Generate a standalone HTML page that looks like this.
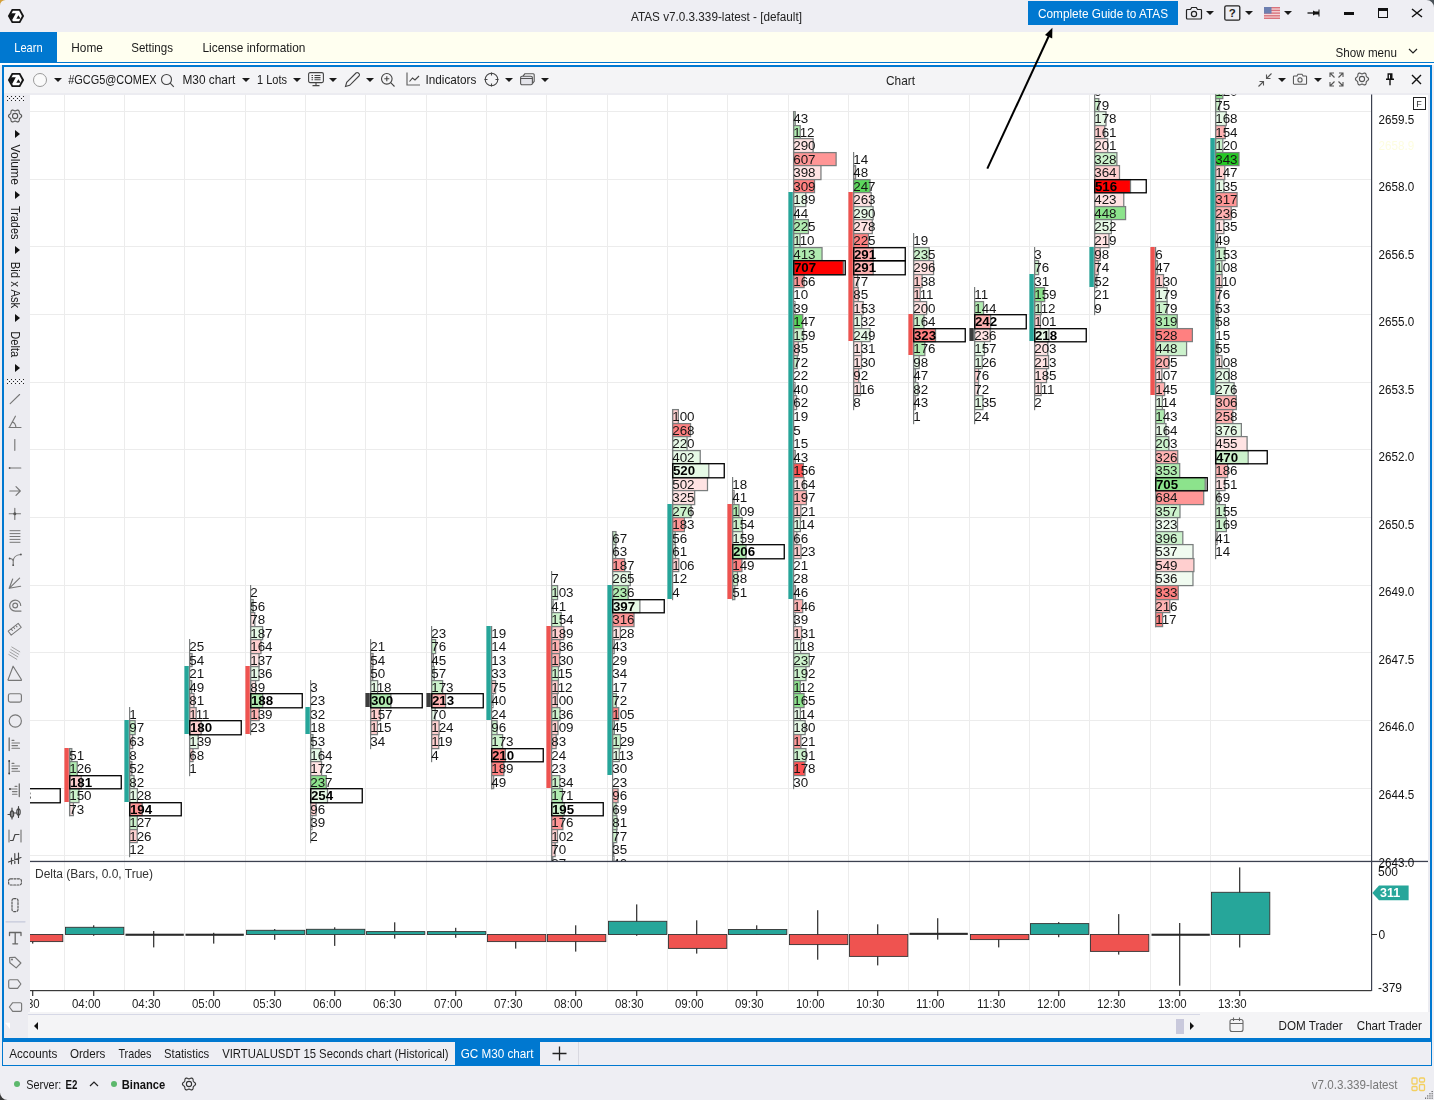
<!DOCTYPE html>
<html><head><meta charset="utf-8"><title>ATAS</title>
<style>
html,body{margin:0;padding:0;}
body{width:1434px;height:1100px;overflow:hidden;position:relative;background:#eeeef3;font-family:"Liberation Sans",sans-serif;font-size:12px;color:#1a1a1a;}
.abs{position:absolute;}
.t{position:absolute;white-space:nowrap;line-height:16px;}
.dd{position:absolute;width:0;height:0;margin-left:0.2px;border-left:4.3px solid transparent;border-right:4.3px solid transparent;border-top:4.6px solid #1a1a1a;}
.ic{position:absolute;overflow:visible;}
.vt{position:absolute;white-space:nowrap;transform-origin:0 0;transform:rotate(90deg);font-size:12.5px;line-height:14px;color:#1a1a1a;}
.tri{position:absolute;width:0;height:0;border-top:4px solid transparent;border-bottom:4px solid transparent;border-left:5px solid #111;}
</style></head><body>
<!-- title bar -->
<div class="abs" style="left:0;top:0;width:1434px;height:32px;background:#eeeef3;"></div>
<!-- menu bar -->
<div class="abs" style="left:0;top:32px;width:1434px;height:30px;background:#fffff0;"></div>
<div class="abs" style="left:0;top:32px;width:57px;height:30px;background:#0078d0;"></div>
<div class="abs" style="left:0;top:62px;width:1434px;height:1px;background:#0078d0;"></div>
<div class="abs" style="left:0;top:63px;width:1434px;height:2px;background:#fff;"></div>
<!-- title bar content -->
<svg class="ic" style="left:0px;top:0px" width="32" height="32" viewBox="0 0 32 32"><path d="M7.900 16L11.800 9h8.400L24.100 16 20.200 23h-8.400z" fill="#151515"/><path d="M10.100 16L12.900 10.800h6.200L21.900 16 19.100 21.200h-6.200z" fill="#fff"/><path d="M9.600 16L11.200 13.300h4.600L12.300 19.700h-0.700z" fill="#151515"/><path d="M18.400 15.200L20.600 18.700h-4.300z" fill="#151515"/></svg>
<div class="abs" style="left:1028px;top:1px;width:150px;height:24px;background:#0078d0;"></div>
<!-- camera -->
<svg class="ic" style="left:1185px;top:5px" width="18" height="16" viewBox="0 0 18 16"><path d="M2.5 4.5h3l1.2-2h4.6l1.2 2h3a1 1 0 0 1 1 1v7.5a1 1 0 0 1-1 1h-13a1 1 0 0 1-1-1V5.500a1 1 0 0 1 1-1z" fill="none" stroke="#222" stroke-width="1.2"/><circle cx="9" cy="9" r="2.6" fill="none" stroke="#222" stroke-width="1.2"/></svg>
<div class="dd" style="left:1206px;top:11px"></div>
<svg class="ic" style="left:1224px;top:5px" width="17" height="16" viewBox="0 0 17 16"><rect x="0.8" y="0.8" width="15" height="14.4" rx="1.5" fill="none" stroke="#222" stroke-width="1.3"/><text x="8.3" y="12.3" font-size="11.5" font-weight="bold" text-anchor="middle" fill="#222" font-family="Liberation Sans, sans-serif">?</text></svg>
<div class="dd" style="left:1245px;top:11px"></div>
<!-- flag -->
<svg class="ic" style="left:1264px;top:7px" width="16" height="12" viewBox="0 0 16 12"><rect width="16" height="12" fill="#f4d6d8"/><g fill="#d9737c"><rect y="0" width="16" height="1.4"/><rect y="2.7" width="16" height="1.4"/><rect y="5.4" width="16" height="1.4"/><rect y="8.1" width="16" height="1.4"/><rect y="10.6" width="16" height="1.4"/></g><rect width="7.5" height="6.6" fill="#6d7fb0"/></svg>
<div class="dd" style="left:1284px;top:11px"></div>
<!-- pin -->
<svg class="ic" style="left:1307px;top:8px" width="14" height="10" viewBox="0 0 14 10"><path d="M0.500 5h6" stroke="#111" stroke-width="1.3"/><path d="M6 2.500l2 1h3.500v-2h1v7h-1v-2H8l-2 1z" fill="#111"/></svg>
<div class="abs" style="left:1344px;top:11.500px;width:10px;height:3px;background:#111;"></div>
<div class="abs" style="left:1378px;top:8px;width:7.500px;height:6px;border:1.500px solid #111;border-top-width:3px;"></div>
<svg class="ic" style="left:1411px;top:8px" width="12" height="10" viewBox="0 0 12 10"><path d="M1 1l10 8M11 1l-10 8" stroke="#111" stroke-width="1.500"/></svg>
<!-- menu -->
<svg class="ic" style="left:1408px;top:48px" width="10" height="7" viewBox="0 0 10 7"><path d="M1 1l4 4 4-4" fill="none" stroke="#222" stroke-width="1.200"/></svg>

<!-- chart window frame -->
<div class="abs" style="left:2px;top:65px;width:1430px;height:977px;background:#0078d0;"></div>
<div class="abs" style="left:4px;top:67px;width:1426px;height:971px;background:#f4f4f6;"></div>
<!-- chart toolbar -->
<svg class="ic" style="left:0px;top:64px" width="32" height="32" viewBox="0 0 32 32"><path d="M7.900 16L11.800 9h8.400L24.100 16 20.200 23h-8.400z" fill="#151515"/><path d="M10.100 16L12.900 10.800h6.200L21.900 16 19.100 21.200h-6.200z" fill="#fff"/><path d="M9.600 16L11.200 13.300h4.600L12.300 19.700h-0.700z" fill="#151515"/><path d="M18.400 15.200L20.600 18.700h-4.300z" fill="#151515"/></svg>
<div class="abs" style="left:33px;top:73px;width:12px;height:12px;border:1px solid #9a9a9a;border-radius:50%;background:#fafafa;"></div>
<div class="dd" style="left:53.500px;top:77.500px"></div>
<svg class="ic" style="left:160px;top:73px" width="15" height="15" viewBox="0 0 15 15"><circle cx="6.500" cy="6.500" r="5" fill="none" stroke="#444" stroke-width="1.100"/><path d="M10.200 10.200l3.600 3.600" stroke="#444" stroke-width="1.100"/></svg>
<div class="dd" style="left:241.500px;top:77.500px"></div>
<div class="dd" style="left:292.500px;top:77.500px"></div>
<!-- monitor -->
<svg class="ic" style="left:308px;top:72px" width="16" height="15" viewBox="0 0 16 15"><rect x="0.600" y="0.600" width="14.800" height="10" rx="1.500" fill="none" stroke="#444" stroke-width="1.100"/><path d="M3.500 3.500h1.500M6.500 3.500h6M3.500 5.600h1.500M6.500 5.600h6M3.500 7.700h1.500M6.500 7.700h6M8 10.600v2.400M4.500 13.600h7" stroke="#444" stroke-width="1.100"/></svg>
<div class="dd" style="left:329px;top:77.500px"></div>
<!-- pencil -->
<svg class="ic" style="left:344px;top:71px" width="17" height="17" viewBox="0 0 17 17"><path d="M1.500 15.500l1.200-4.200L12 2a1.600 1.600 0 0 1 2.300 0l.700.700a1.600 1.600 0 0 1 0 2.300L5.700 14.300z" fill="none" stroke="#444" stroke-width="1.100"/></svg>
<div class="dd" style="left:365.500px;top:77.500px"></div>
<!-- zoom plus -->
<svg class="ic" style="left:380px;top:72px" width="16" height="16" viewBox="0 0 16 16"><circle cx="6.800" cy="6.800" r="5.300" fill="none" stroke="#444" stroke-width="1.100"/><path d="M10.700 10.700l3.800 3.800M4.300 6.800h5M6.800 4.300v5" stroke="#444" stroke-width="1.100"/></svg>
<!-- indicators -->
<svg class="ic" style="left:406px;top:72px" width="15" height="15" viewBox="0 0 15 15"><path d="M1 0.500v12.500h13" fill="none" stroke="#666" stroke-width="1.200"/><path d="M3.500 9.500l3-3.500 2.500 2 4-4" fill="none" stroke="#444" stroke-width="1.100"/></svg>
<svg class="ic" style="left:484px;top:72px" width="15" height="15" viewBox="0 0 15 15"><circle cx="7.500" cy="7.500" r="6.300" fill="none" stroke="#444" stroke-width="1.100"/><path d="M7.500 0.500v3M7.500 11.500v3M0.500 7.500h3M11.500 7.500h3" stroke="#444" stroke-width="1.100"/></svg>
<div class="dd" style="left:504.500px;top:77.500px"></div>
<svg class="ic" style="left:520px;top:73px" width="15" height="13" viewBox="0 0 15 13"><path d="M3 3.200l1.800-2.400h8.400a1 1 0 0 1 1 1v6.500l-1.800 2.300" fill="none" stroke="#555" stroke-width="1.100"/><rect x="0.600" y="3.200" width="11.800" height="8.600" rx="1.500" fill="#e4e4ea" stroke="#555" stroke-width="1.100"/><path d="M0.600 5.500h11.800" stroke="#555" stroke-width="1"/></svg>
<div class="dd" style="left:540.500px;top:77.500px"></div>
<!-- right toolbar icons -->
<svg class="ic" style="left:1257px;top:72px" width="16" height="16" viewBox="0 0 16 16"><path d="M1.500 14.500l5-5M6.500 13.500v-4h-4M14.500 1.500l-5 5M9.500 2.500v4h4" fill="none" stroke="#555" stroke-width="1.100"/></svg>
<div class="dd" style="left:1277.500px;top:77.500px"></div>
<svg class="ic" style="left:1292px;top:72px" width="16" height="14" viewBox="0 0 18 16"><path d="M2.500 4.500h3l1.200-2h4.600l1.200 2h3a1 1 0 0 1 1 1v7.500a1 1 0 0 1-1 1h-13a1 1 0 0 1-1-1V5.500a1 1 0 0 1 1-1z" fill="none" stroke="#555" stroke-width="1.200"/><circle cx="9" cy="9" r="2.400" fill="none" stroke="#555" stroke-width="1.200"/></svg>
<div class="dd" style="left:1313.500px;top:77.500px"></div>
<svg class="ic" style="left:1329px;top:72px" width="15" height="15" viewBox="0 0 15 15"><path d="M1 5V1h4M10 1h4v4M14 10v4h-4M5 14H1v-4M1.500 1.500l4 4M13.500 1.500l-4 4M13.500 13.500l-4-4M1.500 13.500l4-4" fill="none" stroke="#555" stroke-width="1.100"/></svg>
<svg class="ic" style="left:1354px;top:71px" width="16" height="16" viewBox="0 0 16 16"><g transform="translate(8,8)"><path d="M6.60 0.00 L6.55 0.34 L6.42 0.67 L6.21 0.98 L5.95 1.26 L5.65 1.51 L5.34 1.74 L5.05 1.94 L4.79 2.13 L4.58 2.33 L4.42 2.55 L4.31 2.80 L4.24 3.08 L4.20 3.40 L4.18 3.76 L4.14 4.14 L4.07 4.52 L3.96 4.89 L3.80 5.22 L3.57 5.50 L3.30 5.72 L2.98 5.85 L2.63 5.90 L2.25 5.87 L1.88 5.78 L1.51 5.65 L1.17 5.50 L0.85 5.34 L0.55 5.21 L0.27 5.13 L0.00 5.10 L-0.27 5.13 L-0.55 5.21 L-0.85 5.34 L-1.17 5.50 L-1.51 5.65 L-1.88 5.78 L-2.25 5.87 L-2.63 5.90 L-2.98 5.85 L-3.30 5.72 L-3.57 5.50 L-3.80 5.22 L-3.96 4.89 L-4.07 4.52 L-4.14 4.14 L-4.18 3.76 L-4.20 3.40 L-4.24 3.08 L-4.31 2.80 L-4.42 2.55 L-4.58 2.33 L-4.79 2.13 L-5.05 1.94 L-5.34 1.74 L-5.65 1.51 L-5.95 1.26 L-6.21 0.98 L-6.42 0.67 L-6.55 0.34 L-6.60 0.00 L-6.55 -0.34 L-6.42 -0.67 L-6.21 -0.98 L-5.95 -1.26 L-5.65 -1.51 L-5.34 -1.74 L-5.05 -1.94 L-4.79 -2.13 L-4.58 -2.33 L-4.42 -2.55 L-4.31 -2.80 L-4.24 -3.08 L-4.20 -3.40 L-4.18 -3.76 L-4.14 -4.14 L-4.07 -4.52 L-3.96 -4.89 L-3.80 -5.22 L-3.57 -5.50 L-3.30 -5.72 L-2.98 -5.85 L-2.63 -5.90 L-2.25 -5.87 L-1.88 -5.78 L-1.51 -5.65 L-1.17 -5.50 L-0.85 -5.34 L-0.55 -5.21 L-0.27 -5.13 L-0.00 -5.10 L0.27 -5.13 L0.55 -5.21 L0.85 -5.34 L1.17 -5.50 L1.51 -5.65 L1.88 -5.78 L2.25 -5.87 L2.63 -5.90 L2.98 -5.85 L3.30 -5.72 L3.57 -5.50 L3.80 -5.22 L3.96 -4.89 L4.07 -4.52 L4.14 -4.14 L4.18 -3.76 L4.20 -3.40 L4.24 -3.08 L4.31 -2.80 L4.42 -2.55 L4.58 -2.33 L4.79 -2.13 L5.05 -1.94 L5.34 -1.74 L5.65 -1.51 L5.95 -1.26 L6.21 -0.98 L6.42 -0.67 L6.55 -0.34Z" fill="none" stroke="#555" stroke-width="1.100" stroke-linejoin="round"/><circle cx="0" cy="0" r="2.6" fill="none" stroke="#555" stroke-width="1.100"/></g></svg>
<svg class="ic" style="left:1385px;top:73px" width="10" height="13" viewBox="0 0 10 13"><path d="M2.500 1h5M3.200 1v5M6.800 1v5M1 6.200h8M5 6.200v6" fill="none" stroke="#111" stroke-width="1.400"/><rect x="5" y="1" width="1.800" height="5" fill="#111"/></svg>
<svg class="ic" style="left:1411px;top:74px" width="11" height="11" viewBox="0 0 11 11"><path d="M1 1l9 9M10 1l-9 9" stroke="#111" stroke-width="1.400"/></svg>
<!-- left toolbar -->
<div class="abs" style="left:4px;top:93px;width:1426px;height:945px;background:#ececf1;"></div>
<svg class="ic" style="left:4px;top:94px" width="26" height="925" viewBox="0 0 26 925" fill="none" stroke="#555" stroke-width="1.1" stroke-linecap="round" stroke-linejoin="round">
<!-- grip -->
<g stroke="none"><rect x="3" y="2" width="1" height="1" fill="#222"/><rect x="5" y="2" width="1" height="1" fill="#fff"/><rect x="7" y="2" width="1" height="1" fill="#222"/><rect x="9" y="2" width="1" height="1" fill="#fff"/><rect x="11" y="2" width="1" height="1" fill="#222"/><rect x="13" y="2" width="1" height="1" fill="#fff"/><rect x="15" y="2" width="1" height="1" fill="#222"/><rect x="17" y="2" width="1" height="1" fill="#fff"/><rect x="19" y="2" width="1" height="1" fill="#222"/><rect x="3" y="4" width="1" height="1" fill="#fff"/><rect x="5" y="4" width="1" height="1" fill="#222"/><rect x="7" y="4" width="1" height="1" fill="#fff"/><rect x="9" y="4" width="1" height="1" fill="#222"/><rect x="11" y="4" width="1" height="1" fill="#fff"/><rect x="13" y="4" width="1" height="1" fill="#222"/><rect x="15" y="4" width="1" height="1" fill="#fff"/><rect x="17" y="4" width="1" height="1" fill="#222"/><rect x="19" y="4" width="1" height="1" fill="#fff"/><rect x="3" y="6" width="1" height="1" fill="#222"/><rect x="5" y="6" width="1" height="1" fill="#fff"/><rect x="7" y="6" width="1" height="1" fill="#222"/><rect x="9" y="6" width="1" height="1" fill="#fff"/><rect x="11" y="6" width="1" height="1" fill="#222"/><rect x="13" y="6" width="1" height="1" fill="#fff"/><rect x="15" y="6" width="1" height="1" fill="#222"/><rect x="17" y="6" width="1" height="1" fill="#fff"/><rect x="19" y="6" width="1" height="1" fill="#222"/><rect x="3" y="285" width="1" height="1" fill="#222"/><rect x="5" y="285" width="1" height="1" fill="#fff"/><rect x="7" y="285" width="1" height="1" fill="#222"/><rect x="9" y="285" width="1" height="1" fill="#fff"/><rect x="11" y="285" width="1" height="1" fill="#222"/><rect x="13" y="285" width="1" height="1" fill="#fff"/><rect x="15" y="285" width="1" height="1" fill="#222"/><rect x="17" y="285" width="1" height="1" fill="#fff"/><rect x="19" y="285" width="1" height="1" fill="#222"/><rect x="3" y="287" width="1" height="1" fill="#fff"/><rect x="5" y="287" width="1" height="1" fill="#222"/><rect x="7" y="287" width="1" height="1" fill="#fff"/><rect x="9" y="287" width="1" height="1" fill="#222"/><rect x="11" y="287" width="1" height="1" fill="#fff"/><rect x="13" y="287" width="1" height="1" fill="#222"/><rect x="15" y="287" width="1" height="1" fill="#fff"/><rect x="17" y="287" width="1" height="1" fill="#222"/><rect x="19" y="287" width="1" height="1" fill="#fff"/><rect x="3" y="289" width="1" height="1" fill="#222"/><rect x="5" y="289" width="1" height="1" fill="#fff"/><rect x="7" y="289" width="1" height="1" fill="#222"/><rect x="9" y="289" width="1" height="1" fill="#fff"/><rect x="11" y="289" width="1" height="1" fill="#222"/><rect x="13" y="289" width="1" height="1" fill="#fff"/><rect x="15" y="289" width="1" height="1" fill="#222"/><rect x="17" y="289" width="1" height="1" fill="#fff"/><rect x="19" y="289" width="1" height="1" fill="#222"/></g>
<!-- gear y=116 -> local 22 -->
<g transform="translate(3.100,14)"><g transform="translate(8,8)"><path d="M6.60 0.00 L6.55 0.34 L6.42 0.67 L6.21 0.98 L5.95 1.26 L5.65 1.51 L5.34 1.74 L5.05 1.94 L4.79 2.13 L4.58 2.33 L4.42 2.55 L4.31 2.80 L4.24 3.08 L4.20 3.40 L4.18 3.76 L4.14 4.14 L4.07 4.52 L3.96 4.89 L3.80 5.22 L3.57 5.50 L3.30 5.72 L2.98 5.85 L2.63 5.90 L2.25 5.87 L1.88 5.78 L1.51 5.65 L1.17 5.50 L0.85 5.34 L0.55 5.21 L0.27 5.13 L0.00 5.10 L-0.27 5.13 L-0.55 5.21 L-0.85 5.34 L-1.17 5.50 L-1.51 5.65 L-1.88 5.78 L-2.25 5.87 L-2.63 5.90 L-2.98 5.85 L-3.30 5.72 L-3.57 5.50 L-3.80 5.22 L-3.96 4.89 L-4.07 4.52 L-4.14 4.14 L-4.18 3.76 L-4.20 3.40 L-4.24 3.08 L-4.31 2.80 L-4.42 2.55 L-4.58 2.33 L-4.79 2.13 L-5.05 1.94 L-5.34 1.74 L-5.65 1.51 L-5.95 1.26 L-6.21 0.98 L-6.42 0.67 L-6.55 0.34 L-6.60 0.00 L-6.55 -0.34 L-6.42 -0.67 L-6.21 -0.98 L-5.95 -1.26 L-5.65 -1.51 L-5.34 -1.74 L-5.05 -1.94 L-4.79 -2.13 L-4.58 -2.33 L-4.42 -2.55 L-4.31 -2.80 L-4.24 -3.08 L-4.20 -3.40 L-4.18 -3.76 L-4.14 -4.14 L-4.07 -4.52 L-3.96 -4.89 L-3.80 -5.22 L-3.57 -5.50 L-3.30 -5.72 L-2.98 -5.85 L-2.63 -5.90 L-2.25 -5.87 L-1.88 -5.78 L-1.51 -5.65 L-1.17 -5.50 L-0.85 -5.34 L-0.55 -5.21 L-0.27 -5.13 L-0.00 -5.10 L0.27 -5.13 L0.55 -5.21 L0.85 -5.34 L1.17 -5.50 L1.51 -5.65 L1.88 -5.78 L2.25 -5.87 L2.63 -5.90 L2.98 -5.85 L3.30 -5.72 L3.57 -5.50 L3.80 -5.22 L3.96 -4.89 L4.07 -4.52 L4.14 -4.14 L4.18 -3.76 L4.20 -3.40 L4.24 -3.08 L4.31 -2.80 L4.42 -2.55 L4.58 -2.33 L4.79 -2.13 L5.05 -1.94 L5.34 -1.74 L5.65 -1.51 L5.95 -1.26 L6.21 -0.98 L6.42 -0.67 L6.55 -0.34Z"/><circle cx="0" cy="0" r="2.6"/></g></g>
<!-- tools -->
<g transform="translate(-4,-94)" stroke="#777" stroke-width="1.15">
<path d="M10.200 403.600L19.600 394.500"/>
<path d="M9 427.500h12M9.300 427.500L15.400 416.200M12.300 421.800a6.500 6.500 0 0 1 3.600 5.700"/>
<path d="M14.800 439.500v10.800"/>
<path d="M9.500 468h11.300"/><circle cx="9.600" cy="468" r="0.900" fill="#555" stroke="none"/>
<path d="M9.800 491h10M16 486.700l4.300 4.300-4.300 4.300"/>
<path d="M9.200 513.700h11.300M14.800 508.200v11.200"/><circle cx="14.800" cy="513.700" r="1.500" fill="#555" stroke="none"/>
<path d="M10 530.700h10M10 533.600h10M10 536.500h10M10 539.400h10M10 542.300h10" stroke-width="1"/>
<path d="M13.200 565v-3.500c0-4 3-6.800 7.500-7M13.200 561c-0.300-1.500-1.500-2.500-3.400-2.500"/><circle cx="20.900" cy="554.500" r="0.900" fill="#555" stroke="none"/><circle cx="9.600" cy="558.500" r="0.900" fill="#555" stroke="none"/><circle cx="13.200" cy="565.200" r="0.900" fill="#555" stroke="none"/>
<path d="M9.200 588.300L19.600 578.200M9.200 588.300L12.700 579M9.200 588.300L20.600 586.300"/>
<circle cx="15.200" cy="605.500" r="2.400"/><path d="M20.700 605.500a5.500 5.500 0 1 0-5.500 5.600h5.800"/>
<path d="M8.200 631.200l10-7.800 3 3.900-10 7.800zM11.300 629l1.100 1.500M13.600 627.200l1.100 1.500M15.900 625.400l1.100 1.500" stroke-width="1.050"/>
<path d="M10.800 649.500l8 4.800M9.800 652l8 4.800M8.800 654.500l8 4.800M11.800 647l8 4.800" stroke="#999" stroke-width="0.900"/>
<path d="M13.100 666.200L21.400 679.500a0.500 0.500 0 0 1-0.500 0.800H8.600a0.500 0.500 0 0 1-0.500-0.700z"/>
<rect x="8.400" y="693.700" width="13" height="8.400" rx="1.800"/>
<circle cx="15.300" cy="721" r="6.100"/>
<path d="M9.200 738v12.500" stroke-width="1.400"/><path d="M12 740.300h2M12 743h7.500M12 745.600h5.500M12 748.200h7.500"/>
<path d="M9.200 761v12.500" stroke-width="1.400"/><path d="M12 763.300h2M12 766h7.500M12 768.600h5.500M12 771.200h7.500"/><circle cx="9.200" cy="761" r="0.900" fill="#444" stroke="none"/><circle cx="9.200" cy="773.500" r="0.900" fill="#444" stroke="none"/>
<path d="M19.300 784v12.500" stroke-width="1.400"/><path d="M17 786.300h-2M17 789h-7.500M17 791.600h-4.500M17 794.200h-4.500"/><circle cx="10" cy="789" r="0.900" fill="#444" stroke="none"/>
<path d="M8 814.500h2.500M13.500 813h3.500M12 808v11M18.500 806.500v11" stroke="#444"/><ellipse cx="12" cy="814" rx="1.700" ry="3.200" stroke="#444"/><ellipse cx="18.500" cy="812" rx="1.700" ry="3.200" stroke="#444"/>
<path d="M9 830v12M21 830v12"/><path d="M10.500 840.500h2.500l2-6h4" stroke="#444"/>
<path d="M8.500 862l12.500-4.500M14.800 853.500v10M18.500 853v10.500M11.500 858v6" stroke="#444"/>
<rect x="8.600" y="878.800" width="12.800" height="6.200" rx="2" stroke-dasharray="2 1.400" stroke="#555"/>
<rect x="12" y="898.600" width="6" height="13" rx="2" stroke-dasharray="2 1.400" stroke="#555"/>
<path d="M6 921.800h19" stroke="#c3c7da"/>
<path d="M9.500 935.500v-3h11.500v3M15.200 932.500v11.300M12.800 943.800h4.800" stroke="#666" stroke-width="1.300"/>
<path d="M9.600 957.500l0.300 5.200 6.300 5.200 4.700-4.900-6-5.800z"/><circle cx="12" cy="959.500" r="0.500"/>
<path d="M10 979.700h7.600l3.300 4.300-3.300 4.400H10a1.300 1.300 0 0 1-1.300-1.300v-6.100a1.300 1.300 0 0 1 1.300-1.300z"/>
<path d="M20.300 1002.700h-7.600l-3.300 4.300 3.300 4.400h7.600a1.300 1.300 0 0 0 1.300-1.300v-6.100a1.300 1.300 0 0 0-1.300-1.300z"/>
</g>
</svg>
<div class="tri" style="left:14.500px;top:130px"></div>
<div class="tri" style="left:14.500px;top:191px"></div>
<div class="tri" style="left:14.500px;top:246px"></div>
<div class="tri" style="left:14.500px;top:314px"></div>
<div class="tri" style="left:14.500px;top:364px"></div>
<svg width="1434" height="1100" viewBox="0 0 1434 1100" style="position:absolute;left:0;top:0;will-change:transform" font-family="Liberation Sans, sans-serif">
<defs><clipPath id="cm"><rect x="30" y="94.5" width="1341.5" height="766.5"/></clipPath><clipPath id="cd"><rect x="30" y="862" width="1341.5" height="128"/></clipPath><clipPath id="ct"><rect x="30" y="990" width="1341.5" height="25"/></clipPath></defs>
<rect x="30" y="95" width="1398" height="917" fill="#fff"/>
<g stroke="#ececec" stroke-width="1" clip-path="url(#cm)">
<line x1="64.5" y1="94" x2="64.5" y2="861"/>
<line x1="124.5" y1="94" x2="124.5" y2="861"/>
<line x1="184.5" y1="94" x2="184.5" y2="861"/>
<line x1="245.5" y1="94" x2="245.5" y2="861"/>
<line x1="305.5" y1="94" x2="305.5" y2="861"/>
<line x1="365.5" y1="94" x2="365.5" y2="861"/>
<line x1="426.5" y1="94" x2="426.5" y2="861"/>
<line x1="486.5" y1="94" x2="486.5" y2="861"/>
<line x1="546.5" y1="94" x2="546.5" y2="861"/>
<line x1="607.5" y1="94" x2="607.5" y2="861"/>
<line x1="667.5" y1="94" x2="667.5" y2="861"/>
<line x1="727.5" y1="94" x2="727.5" y2="861"/>
<line x1="788.5" y1="94" x2="788.5" y2="861"/>
<line x1="848.5" y1="94" x2="848.5" y2="861"/>
<line x1="908.5" y1="94" x2="908.5" y2="861"/>
<line x1="969.5" y1="94" x2="969.5" y2="861"/>
<line x1="1029.5" y1="94" x2="1029.5" y2="861"/>
<line x1="1089.5" y1="94" x2="1089.5" y2="861"/>
<line x1="1150.5" y1="94" x2="1150.5" y2="861"/>
<line x1="1210.5" y1="94" x2="1210.5" y2="861"/>
<line x1="30" y1="111.5" x2="1371" y2="111.5"/>
<line x1="30" y1="179.5" x2="1371" y2="179.5"/>
<line x1="30" y1="246.5" x2="1371" y2="246.5"/>
<line x1="30" y1="314.5" x2="1371" y2="314.5"/>
<line x1="30" y1="382.5" x2="1371" y2="382.5"/>
<line x1="30" y1="449.5" x2="1371" y2="449.5"/>
<line x1="30" y1="517.5" x2="1371" y2="517.5"/>
<line x1="30" y1="585.5" x2="1371" y2="585.5"/>
<line x1="30" y1="652.5" x2="1371" y2="652.5"/>
<line x1="30" y1="720.5" x2="1371" y2="720.5"/>
<line x1="30" y1="788.5" x2="1371" y2="788.5"/>
<line x1="30" y1="855.5" x2="1371" y2="855.5"/>
</g>
<g stroke="#ececec" stroke-width="1" clip-path="url(#cd)">
<line x1="64.5" y1="862" x2="64.5" y2="990"/>
<line x1="124.5" y1="862" x2="124.5" y2="990"/>
<line x1="184.5" y1="862" x2="184.5" y2="990"/>
<line x1="245.5" y1="862" x2="245.5" y2="990"/>
<line x1="305.5" y1="862" x2="305.5" y2="990"/>
<line x1="365.5" y1="862" x2="365.5" y2="990"/>
<line x1="426.5" y1="862" x2="426.5" y2="990"/>
<line x1="486.5" y1="862" x2="486.5" y2="990"/>
<line x1="546.5" y1="862" x2="546.5" y2="990"/>
<line x1="607.5" y1="862" x2="607.5" y2="990"/>
<line x1="667.5" y1="862" x2="667.5" y2="990"/>
<line x1="727.5" y1="862" x2="727.5" y2="990"/>
<line x1="788.5" y1="862" x2="788.5" y2="990"/>
<line x1="848.5" y1="862" x2="848.5" y2="990"/>
<line x1="908.5" y1="862" x2="908.5" y2="990"/>
<line x1="969.5" y1="862" x2="969.5" y2="990"/>
<line x1="1029.5" y1="862" x2="1029.5" y2="990"/>
<line x1="1089.5" y1="862" x2="1089.5" y2="990"/>
<line x1="1150.5" y1="862" x2="1150.5" y2="990"/>
<line x1="1210.5" y1="862" x2="1210.5" y2="990"/>
</g>
<g clip-path="url(#cm)">
<rect x="8.6" y="748.6" width="6.11" height="13" fill="#fff" stroke="#7a7e7e" stroke-width="1.25"/>
<rect x="8.6" y="761.6" width="4.88" height="14" fill="#fff" stroke="#7a7e7e" stroke-width="1.25"/>
<rect x="8.6" y="775.6" width="6.47" height="13" fill="#fff" stroke="#7a7e7e" stroke-width="1.25"/>
<rect x="8.6" y="788.6" width="11.77" height="14" fill="#fff" stroke="#7a7e7e" stroke-width="1.25"/>
<rect x="8.6" y="802.6" width="5.02" height="13" fill="#fff" stroke="#7a7e7e" stroke-width="1.25"/>
<rect x="8" y="748" width="1.2" height="68.2" fill="#7a7e7e"/>
<rect x="8.75" y="788.7" width="51.5" height="14.1" fill="none" stroke="#000" stroke-width="1.3"/>
<text x="8.2" y="760.1" font-size="13.4" fill="#161616">105</text>
<text x="8.2" y="773.1" font-size="13.4" fill="#161616">88</text>
<text x="8.2" y="787.1" font-size="13.4" fill="#161616">110</text>
<text x="8.9" y="800" font-size="13.3" font-weight="bold" fill="#000">183</text>
<text x="8.2" y="814.1" font-size="13.4" fill="#161616">90</text>
<rect x="64.4" y="748" width="4.4" height="54" fill="#ef5350"/>
<rect x="69.6" y="748.6" width="2.2" height="13" fill="#e6f9e6" stroke="#7a7e7e" stroke-width="1.25"/>
<rect x="69.6" y="761.6" width="7.63" height="14" fill="#b0ebb0" stroke="#7a7e7e" stroke-width="1.25"/>
<rect x="69.6" y="775.6" width="11.62" height="13" fill="#ffcfcf" stroke="#7a7e7e" stroke-width="1.25"/>
<rect x="69.6" y="788.6" width="9.38" height="14" fill="#ccf2cc" stroke="#7a7e7e" stroke-width="1.25"/>
<rect x="69.6" y="802.6" width="3.79" height="13" fill="#ffe3e3" stroke="#7a7e7e" stroke-width="1.25"/>
<rect x="69" y="748" width="1.2" height="68.2" fill="#7a7e7e"/>
<rect x="69.75" y="775.7" width="51.5" height="13.1" fill="none" stroke="#000" stroke-width="1.3"/>
<text x="69.2" y="760.1" font-size="13.4" fill="#161616">51</text>
<text x="69.2" y="773.1" font-size="13.4" fill="#161616">126</text>
<text x="69.9" y="787" font-size="13.3" font-weight="bold" fill="#000">181</text>
<text x="69.2" y="800.1" font-size="13.4" fill="#161616">150</text>
<text x="69.2" y="814.1" font-size="13.4" fill="#161616">73</text>
<rect x="124.4" y="720" width="4.4" height="82" fill="#26a69a"/>
<rect x="129.6" y="720.6" width="5.53" height="14" fill="#ccf2cc" stroke="#7a7e7e" stroke-width="1.25"/>
<rect x="129.6" y="734.6" width="3.07" height="14" fill="#ffe3e3" stroke="#7a7e7e" stroke-width="1.25"/>
<rect x="129.6" y="761.6" width="2.27" height="14" fill="#ffe3e3" stroke="#7a7e7e" stroke-width="1.25"/>
<rect x="129.6" y="775.6" width="4.44" height="13" fill="#e6f9e6" stroke="#7a7e7e" stroke-width="1.25"/>
<rect x="129.6" y="788.6" width="7.78" height="14" fill="#e6f9e6" stroke="#7a7e7e" stroke-width="1.25"/>
<rect x="129.6" y="802.6" width="12.56" height="13" fill="#ff9696" stroke="#7a7e7e" stroke-width="1.25"/>
<rect x="129.6" y="815.6" width="7.71" height="14" fill="#ccf2cc" stroke="#7a7e7e" stroke-width="1.25"/>
<rect x="129.6" y="829.6" width="7.63" height="13" fill="#ffcfcf" stroke="#7a7e7e" stroke-width="1.25"/>
<rect x="129" y="707" width="1.2" height="150.2" fill="#7a7e7e"/>
<rect x="129.75" y="802.7" width="51.5" height="13.1" fill="none" stroke="#000" stroke-width="1.3"/>
<text x="129.2" y="719.1" font-size="13.4" fill="#161616">1</text>
<text x="129.2" y="732.1" font-size="13.4" fill="#161616">97</text>
<text x="129.2" y="746.1" font-size="13.4" fill="#161616">63</text>
<text x="129.2" y="760.1" font-size="13.4" fill="#161616">8</text>
<text x="129.2" y="773.1" font-size="13.4" fill="#161616">52</text>
<text x="129.2" y="787.1" font-size="13.4" fill="#161616">82</text>
<text x="129.2" y="800.1" font-size="13.4" fill="#161616">128</text>
<text x="129.9" y="814" font-size="13.3" font-weight="bold" fill="#000">194</text>
<text x="129.2" y="827.1" font-size="13.4" fill="#161616">127</text>
<text x="129.2" y="841.1" font-size="13.4" fill="#161616">126</text>
<text x="129.2" y="854.1" font-size="13.4" fill="#161616">12</text>
<rect x="184.4" y="666" width="4.4" height="68" fill="#26a69a"/>
<rect x="189.6" y="653.6" width="2.42" height="13" fill="#fff0f0" stroke="#7a7e7e" stroke-width="1.25"/>
<rect x="189.6" y="680.6" width="2.05" height="13" fill="#e6f9e6" stroke="#7a7e7e" stroke-width="1.25"/>
<rect x="189.6" y="693.6" width="4.37" height="14" fill="#ffe3e3" stroke="#7a7e7e" stroke-width="1.25"/>
<rect x="189.6" y="707.6" width="6.55" height="13" fill="#ffcfcf" stroke="#7a7e7e" stroke-width="1.25"/>
<rect x="189.6" y="720.6" width="11.55" height="14" fill="#ffcfcf" stroke="#7a7e7e" stroke-width="1.25"/>
<rect x="189.6" y="734.6" width="8.58" height="14" fill="#e6f9e6" stroke="#7a7e7e" stroke-width="1.25"/>
<rect x="189.6" y="748.6" width="3.43" height="13" fill="#ffcfcf" stroke="#7a7e7e" stroke-width="1.25"/>
<rect x="189" y="639" width="1.2" height="137.2" fill="#7a7e7e"/>
<rect x="189.75" y="720.7" width="51.5" height="14.1" fill="none" stroke="#000" stroke-width="1.3"/>
<text x="189.2" y="651.1" font-size="13.4" fill="#161616">25</text>
<text x="189.2" y="665.1" font-size="13.4" fill="#161616">54</text>
<text x="189.2" y="678.1" font-size="13.4" fill="#161616">21</text>
<text x="189.2" y="692.1" font-size="13.4" fill="#161616">49</text>
<text x="189.2" y="705.1" font-size="13.4" fill="#161616">81</text>
<text x="189.2" y="719.1" font-size="13.4" fill="#161616">111</text>
<text x="189.9" y="732" font-size="13.3" font-weight="bold" fill="#000">180</text>
<text x="189.2" y="746.1" font-size="13.4" fill="#161616">139</text>
<text x="189.2" y="760.1" font-size="13.4" fill="#161616">68</text>
<text x="189.2" y="773.1" font-size="13.4" fill="#161616">1</text>
<rect x="245.4" y="666" width="4.4" height="68" fill="#ef5350"/>
<rect x="250.6" y="599.6" width="2.56" height="13" fill="#e6f9e6" stroke="#7a7e7e" stroke-width="1.25"/>
<rect x="250.6" y="612.6" width="4.15" height="14" fill="#ffe3e3" stroke="#7a7e7e" stroke-width="1.25"/>
<rect x="250.6" y="626.6" width="12.06" height="13" fill="#e6f9e6" stroke="#7a7e7e" stroke-width="1.25"/>
<rect x="250.6" y="639.6" width="10.39" height="14" fill="#ffcfcf" stroke="#7a7e7e" stroke-width="1.25"/>
<rect x="250.6" y="653.6" width="8.43" height="13" fill="#ffe3e3" stroke="#7a7e7e" stroke-width="1.25"/>
<rect x="250.6" y="666.6" width="8.36" height="14" fill="#e6f9e6" stroke="#7a7e7e" stroke-width="1.25"/>
<rect x="250.6" y="680.6" width="4.95" height="13" fill="#ffe3e3" stroke="#7a7e7e" stroke-width="1.25"/>
<rect x="250.6" y="693.6" width="12.13" height="14" fill="#b0ebb0" stroke="#7a7e7e" stroke-width="1.25"/>
<rect x="250.6" y="707.6" width="8.58" height="13" fill="#ffb2b2" stroke="#7a7e7e" stroke-width="1.25"/>
<rect x="250" y="585" width="1.2" height="150.2" fill="#7a7e7e"/>
<rect x="250.75" y="693.7" width="51.5" height="14.1" fill="none" stroke="#000" stroke-width="1.3"/>
<text x="250.2" y="597.1" font-size="13.4" fill="#161616">2</text>
<text x="250.2" y="611.1" font-size="13.4" fill="#161616">56</text>
<text x="250.2" y="624.1" font-size="13.4" fill="#161616">78</text>
<text x="250.2" y="638.1" font-size="13.4" fill="#161616">187</text>
<text x="250.2" y="651.1" font-size="13.4" fill="#161616">164</text>
<text x="250.2" y="665.1" font-size="13.4" fill="#161616">137</text>
<text x="250.2" y="678.1" font-size="13.4" fill="#161616">136</text>
<text x="250.2" y="692.1" font-size="13.4" fill="#161616">89</text>
<text x="250.9" y="705" font-size="13.3" font-weight="bold" fill="#000">188</text>
<text x="250.2" y="719.1" font-size="13.4" fill="#161616">139</text>
<text x="250.2" y="732.1" font-size="13.4" fill="#161616">23</text>
<rect x="305.4" y="707" width="4.4" height="27" fill="#26a69a"/>
<rect x="310.6" y="734.6" width="2.34" height="14" fill="#e6f9e6" stroke="#7a7e7e" stroke-width="1.25"/>
<rect x="310.6" y="748.6" width="10.39" height="13" fill="#e6f9e6" stroke="#7a7e7e" stroke-width="1.25"/>
<rect x="310.6" y="761.6" width="10.97" height="14" fill="#ffe3e3" stroke="#7a7e7e" stroke-width="1.25"/>
<rect x="310.6" y="775.6" width="15.68" height="13" fill="#8ce38c" stroke="#7a7e7e" stroke-width="1.25"/>
<rect x="310.6" y="788.6" width="16.91" height="14" fill="#e6f9e6" stroke="#7a7e7e" stroke-width="1.25"/>
<rect x="310.6" y="802.6" width="5.46" height="13" fill="#ffcfcf" stroke="#7a7e7e" stroke-width="1.25"/>
<rect x="310.6" y="815.6" width="1.33" height="14" fill="#fff" stroke="#7a7e7e" stroke-width="1.25"/>
<rect x="310" y="680" width="1.2" height="163.2" fill="#7a7e7e"/>
<rect x="310.75" y="788.7" width="51.5" height="14.1" fill="none" stroke="#000" stroke-width="1.3"/>
<text x="310.2" y="692.1" font-size="13.4" fill="#161616">3</text>
<text x="310.2" y="705.1" font-size="13.4" fill="#161616">23</text>
<text x="310.2" y="719.1" font-size="13.4" fill="#161616">32</text>
<text x="310.2" y="732.1" font-size="13.4" fill="#161616">18</text>
<text x="310.2" y="746.1" font-size="13.4" fill="#161616">53</text>
<text x="310.2" y="760.1" font-size="13.4" fill="#161616">164</text>
<text x="310.2" y="773.1" font-size="13.4" fill="#161616">172</text>
<text x="310.2" y="787.1" font-size="13.4" fill="#161616">237</text>
<text x="310.9" y="800" font-size="13.3" font-weight="bold" fill="#000">254</text>
<text x="310.2" y="814.1" font-size="13.4" fill="#161616">96</text>
<text x="310.2" y="827.1" font-size="13.4" fill="#161616">39</text>
<text x="310.2" y="841.1" font-size="13.4" fill="#161616">2</text>
<rect x="365.4" y="693" width="4.4" height="14" fill="#3c3c3c"/>
<rect x="370.6" y="653.6" width="2.42" height="13" fill="#ffe3e3" stroke="#7a7e7e" stroke-width="1.25"/>
<rect x="370.6" y="666.6" width="2.12" height="14" fill="#ffe3e3" stroke="#7a7e7e" stroke-width="1.25"/>
<rect x="370.6" y="680.6" width="7.05" height="13" fill="#e6f9e6" stroke="#7a7e7e" stroke-width="1.25"/>
<rect x="370.6" y="693.6" width="20.25" height="14" fill="#b0ebb0" stroke="#7a7e7e" stroke-width="1.25"/>
<rect x="370.6" y="707.6" width="9.88" height="13" fill="#ffcfcf" stroke="#7a7e7e" stroke-width="1.25"/>
<rect x="370.6" y="720.6" width="6.84" height="14" fill="#ffcfcf" stroke="#7a7e7e" stroke-width="1.25"/>
<rect x="370" y="639" width="1.2" height="110.2" fill="#7a7e7e"/>
<rect x="370.75" y="693.7" width="51.5" height="14.1" fill="none" stroke="#000" stroke-width="1.3"/>
<text x="370.2" y="651.1" font-size="13.4" fill="#161616">21</text>
<text x="370.2" y="665.1" font-size="13.4" fill="#161616">54</text>
<text x="370.2" y="678.1" font-size="13.4" fill="#161616">50</text>
<text x="370.2" y="692.1" font-size="13.4" fill="#161616">118</text>
<text x="370.9" y="705" font-size="13.3" font-weight="bold" fill="#000">300</text>
<text x="370.2" y="719.1" font-size="13.4" fill="#161616">157</text>
<text x="370.2" y="732.1" font-size="13.4" fill="#161616">115</text>
<text x="370.2" y="746.1" font-size="13.4" fill="#161616">34</text>
<rect x="426.4" y="693" width="4.4" height="14" fill="#3c3c3c"/>
<rect x="431.6" y="639.6" width="4.01" height="14" fill="#ccf2cc" stroke="#7a7e7e" stroke-width="1.25"/>
<rect x="431.6" y="653.6" width="1.76" height="13" fill="#ffe3e3" stroke="#7a7e7e" stroke-width="1.25"/>
<rect x="431.6" y="666.6" width="2.63" height="14" fill="#e6f9e6" stroke="#7a7e7e" stroke-width="1.25"/>
<rect x="431.6" y="680.6" width="11.04" height="13" fill="#ccf2cc" stroke="#7a7e7e" stroke-width="1.25"/>
<rect x="431.6" y="693.6" width="13.94" height="14" fill="#ffb2b2" stroke="#7a7e7e" stroke-width="1.25"/>
<rect x="431.6" y="707.6" width="3.57" height="13" fill="#e6f9e6" stroke="#7a7e7e" stroke-width="1.25"/>
<rect x="431.6" y="720.6" width="7.49" height="14" fill="#ffcfcf" stroke="#7a7e7e" stroke-width="1.25"/>
<rect x="431.6" y="734.6" width="7.13" height="14" fill="#ffcfcf" stroke="#7a7e7e" stroke-width="1.25"/>
<rect x="431" y="626" width="1.2" height="136.2" fill="#7a7e7e"/>
<rect x="431.75" y="693.7" width="51.5" height="14.1" fill="none" stroke="#000" stroke-width="1.3"/>
<text x="431.2" y="638.1" font-size="13.4" fill="#161616">23</text>
<text x="431.2" y="651.1" font-size="13.4" fill="#161616">76</text>
<text x="431.2" y="665.1" font-size="13.4" fill="#161616">45</text>
<text x="431.2" y="678.1" font-size="13.4" fill="#161616">57</text>
<text x="431.2" y="692.1" font-size="13.4" fill="#161616">173</text>
<text x="431.9" y="705" font-size="13.3" font-weight="bold" fill="#000">213</text>
<text x="431.2" y="719.1" font-size="13.4" fill="#161616">70</text>
<text x="431.2" y="732.1" font-size="13.4" fill="#161616">124</text>
<text x="431.2" y="746.1" font-size="13.4" fill="#161616">119</text>
<text x="431.2" y="760.1" font-size="13.4" fill="#161616">4</text>
<rect x="486.4" y="626" width="4.4" height="94" fill="#26a69a"/>
<rect x="491.6" y="680.6" width="3.94" height="13" fill="#ffcfcf" stroke="#7a7e7e" stroke-width="1.25"/>
<rect x="491.6" y="693.6" width="1.4" height="14" fill="#fff" stroke="#7a7e7e" stroke-width="1.25"/>
<rect x="491.6" y="720.6" width="5.46" height="14" fill="#ccf2cc" stroke="#7a7e7e" stroke-width="1.25"/>
<rect x="491.6" y="734.6" width="11.04" height="14" fill="#ccf2cc" stroke="#7a7e7e" stroke-width="1.25"/>
<rect x="491.6" y="748.6" width="13.72" height="13" fill="#ff8080" stroke="#7a7e7e" stroke-width="1.25"/>
<rect x="491.6" y="761.6" width="12.2" height="14" fill="#ff8080" stroke="#7a7e7e" stroke-width="1.25"/>
<rect x="491.6" y="775.6" width="2.05" height="13" fill="#ffe3e3" stroke="#7a7e7e" stroke-width="1.25"/>
<rect x="491" y="626" width="1.2" height="163.2" fill="#7a7e7e"/>
<rect x="491.75" y="748.7" width="51.5" height="13.1" fill="none" stroke="#000" stroke-width="1.3"/>
<text x="491.2" y="638.1" font-size="13.4" fill="#161616">19</text>
<text x="491.2" y="651.1" font-size="13.4" fill="#161616">14</text>
<text x="491.2" y="665.1" font-size="13.4" fill="#161616">13</text>
<text x="491.2" y="678.1" font-size="13.4" fill="#161616">33</text>
<text x="491.2" y="692.1" font-size="13.4" fill="#161616">75</text>
<text x="491.2" y="705.1" font-size="13.4" fill="#161616">40</text>
<text x="491.2" y="719.1" font-size="13.4" fill="#161616">24</text>
<text x="491.2" y="732.1" font-size="13.4" fill="#161616">96</text>
<text x="491.2" y="746.1" font-size="13.4" fill="#161616">173</text>
<text x="491.9" y="760" font-size="13.3" font-weight="bold" fill="#000">210</text>
<text x="491.2" y="773.1" font-size="13.4" fill="#161616">189</text>
<text x="491.2" y="787.1" font-size="13.4" fill="#161616">49</text>
<rect x="546.4" y="626" width="4.4" height="162" fill="#ef5350"/>
<rect x="551.6" y="585.6" width="5.97" height="14" fill="#ccf2cc" stroke="#7a7e7e" stroke-width="1.25"/>
<rect x="551.6" y="599.6" width="1.47" height="13" fill="#e6f9e6" stroke="#7a7e7e" stroke-width="1.25"/>
<rect x="551.6" y="612.6" width="9.66" height="14" fill="#ccf2cc" stroke="#7a7e7e" stroke-width="1.25"/>
<rect x="551.6" y="626.6" width="12.2" height="13" fill="#ffcfcf" stroke="#7a7e7e" stroke-width="1.25"/>
<rect x="551.6" y="639.6" width="8.36" height="14" fill="#ffb2b2" stroke="#7a7e7e" stroke-width="1.25"/>
<rect x="551.6" y="653.6" width="7.92" height="13" fill="#ffb2b2" stroke="#7a7e7e" stroke-width="1.25"/>
<rect x="551.6" y="666.6" width="6.84" height="14" fill="#ccf2cc" stroke="#7a7e7e" stroke-width="1.25"/>
<rect x="551.6" y="680.6" width="6.62" height="13" fill="#ffcfcf" stroke="#7a7e7e" stroke-width="1.25"/>
<rect x="551.6" y="693.6" width="5.75" height="14" fill="#ffcfcf" stroke="#7a7e7e" stroke-width="1.25"/>
<rect x="551.6" y="707.6" width="8.36" height="13" fill="#ccf2cc" stroke="#7a7e7e" stroke-width="1.25"/>
<rect x="551.6" y="720.6" width="6.4" height="14" fill="#ffcfcf" stroke="#7a7e7e" stroke-width="1.25"/>
<rect x="551.6" y="734.6" width="4.52" height="14" fill="#ffcfcf" stroke="#7a7e7e" stroke-width="1.25"/>
<rect x="551.6" y="775.6" width="8.21" height="13" fill="#ccf2cc" stroke="#7a7e7e" stroke-width="1.25"/>
<rect x="551.6" y="788.6" width="10.9" height="14" fill="#b0ebb0" stroke="#7a7e7e" stroke-width="1.25"/>
<rect x="551.6" y="802.6" width="12.64" height="13" fill="#ccf2cc" stroke="#7a7e7e" stroke-width="1.25"/>
<rect x="551.6" y="815.6" width="11.26" height="14" fill="#ff9696" stroke="#7a7e7e" stroke-width="1.25"/>
<rect x="551.6" y="829.6" width="5.89" height="13" fill="#ffcfcf" stroke="#7a7e7e" stroke-width="1.25"/>
<rect x="551.6" y="842.6" width="3.57" height="14" fill="#ffcfcf" stroke="#7a7e7e" stroke-width="1.25"/>
<rect x="551.6" y="856.6" width="1.18" height="13" fill="#ffcfcf" stroke="#7a7e7e" stroke-width="1.25"/>
<rect x="551" y="571" width="1.2" height="299.2" fill="#7a7e7e"/>
<rect x="551.75" y="802.7" width="51.5" height="13.1" fill="none" stroke="#000" stroke-width="1.3"/>
<text x="551.2" y="583.1" font-size="13.4" fill="#161616">7</text>
<text x="551.2" y="597.1" font-size="13.4" fill="#161616">103</text>
<text x="551.2" y="611.1" font-size="13.4" fill="#161616">41</text>
<text x="551.2" y="624.1" font-size="13.4" fill="#161616">154</text>
<text x="551.2" y="638.1" font-size="13.4" fill="#161616">189</text>
<text x="551.2" y="651.1" font-size="13.4" fill="#161616">136</text>
<text x="551.2" y="665.1" font-size="13.4" fill="#161616">130</text>
<text x="551.2" y="678.1" font-size="13.4" fill="#161616">115</text>
<text x="551.2" y="692.1" font-size="13.4" fill="#161616">112</text>
<text x="551.2" y="705.1" font-size="13.4" fill="#161616">100</text>
<text x="551.2" y="719.1" font-size="13.4" fill="#161616">136</text>
<text x="551.2" y="732.1" font-size="13.4" fill="#161616">109</text>
<text x="551.2" y="746.1" font-size="13.4" fill="#161616">83</text>
<text x="551.2" y="760.1" font-size="13.4" fill="#161616">24</text>
<text x="551.2" y="773.1" font-size="13.4" fill="#161616">23</text>
<text x="551.2" y="787.1" font-size="13.4" fill="#161616">134</text>
<text x="551.2" y="800.1" font-size="13.4" fill="#161616">171</text>
<text x="551.9" y="814" font-size="13.3" font-weight="bold" fill="#000">195</text>
<text x="551.2" y="827.1" font-size="13.4" fill="#161616">176</text>
<text x="551.2" y="841.1" font-size="13.4" fill="#161616">102</text>
<text x="551.2" y="854.1" font-size="13.4" fill="#161616">70</text>
<text x="551.2" y="868.1" font-size="13.4" fill="#161616">37</text>
<rect x="607.4" y="585" width="4.4" height="190" fill="#26a69a"/>
<rect x="612.6" y="531.6" width="3.36" height="13" fill="#ccf2cc" stroke="#7a7e7e" stroke-width="1.25"/>
<rect x="612.6" y="544.6" width="3.07" height="14" fill="#e6f9e6" stroke="#7a7e7e" stroke-width="1.25"/>
<rect x="612.6" y="558.6" width="12.06" height="13" fill="#ff9696" stroke="#7a7e7e" stroke-width="1.25"/>
<rect x="612.6" y="571.6" width="17.71" height="14" fill="#e6f9e6" stroke="#7a7e7e" stroke-width="1.25"/>
<rect x="612.6" y="585.6" width="15.61" height="14" fill="#b0ebb0" stroke="#7a7e7e" stroke-width="1.25"/>
<rect x="612.6" y="599.6" width="27.28" height="13" fill="#e6f9e6" stroke="#7a7e7e" stroke-width="1.25"/>
<rect x="612.6" y="612.6" width="21.41" height="14" fill="#ff9696" stroke="#7a7e7e" stroke-width="1.25"/>
<rect x="612.6" y="626.6" width="7.78" height="13" fill="#ffe3e3" stroke="#7a7e7e" stroke-width="1.25"/>
<rect x="612.6" y="639.6" width="1.62" height="14" fill="#ffe3e3" stroke="#7a7e7e" stroke-width="1.25"/>
<rect x="612.6" y="693.6" width="3.72" height="14" fill="#ccf2cc" stroke="#7a7e7e" stroke-width="1.25"/>
<rect x="612.6" y="707.6" width="6.11" height="13" fill="#ff8080" stroke="#7a7e7e" stroke-width="1.25"/>
<rect x="612.6" y="720.6" width="1.76" height="14" fill="#ccf2cc" stroke="#7a7e7e" stroke-width="1.25"/>
<rect x="612.6" y="734.6" width="7.85" height="14" fill="#ccf2cc" stroke="#7a7e7e" stroke-width="1.25"/>
<rect x="612.6" y="748.6" width="6.69" height="13" fill="#e6f9e6" stroke="#7a7e7e" stroke-width="1.25"/>
<rect x="612.6" y="788.6" width="5.46" height="14" fill="#ffb2b2" stroke="#7a7e7e" stroke-width="1.25"/>
<rect x="612.6" y="802.6" width="3.5" height="13" fill="#ccf2cc" stroke="#7a7e7e" stroke-width="1.25"/>
<rect x="612.6" y="815.6" width="4.37" height="14" fill="#ccf2cc" stroke="#7a7e7e" stroke-width="1.25"/>
<rect x="612.6" y="829.6" width="4.08" height="13" fill="#ccf2cc" stroke="#7a7e7e" stroke-width="1.25"/>
<rect x="612.6" y="842.6" width="1.04" height="14" fill="#fff" stroke="#7a7e7e" stroke-width="1.25"/>
<rect x="612.6" y="856.6" width="1.4" height="13" fill="#fff" stroke="#7a7e7e" stroke-width="1.25"/>
<rect x="612" y="531" width="1.2" height="339.2" fill="#7a7e7e"/>
<rect x="612.75" y="599.7" width="51.5" height="13.1" fill="none" stroke="#000" stroke-width="1.3"/>
<text x="612.2" y="543.1" font-size="13.4" fill="#161616">67</text>
<text x="612.2" y="556.1" font-size="13.4" fill="#161616">63</text>
<text x="612.2" y="570.1" font-size="13.4" fill="#161616">187</text>
<text x="612.2" y="583.1" font-size="13.4" fill="#161616">265</text>
<text x="612.2" y="597.1" font-size="13.4" fill="#161616">236</text>
<text x="612.9" y="611" font-size="13.3" font-weight="bold" fill="#000">397</text>
<text x="612.2" y="624.1" font-size="13.4" fill="#161616">316</text>
<text x="612.2" y="638.1" font-size="13.4" fill="#161616">128</text>
<text x="612.2" y="651.1" font-size="13.4" fill="#161616">43</text>
<text x="612.2" y="665.1" font-size="13.4" fill="#161616">29</text>
<text x="612.2" y="678.1" font-size="13.4" fill="#161616">34</text>
<text x="612.2" y="692.1" font-size="13.4" fill="#161616">17</text>
<text x="612.2" y="705.1" font-size="13.4" fill="#161616">72</text>
<text x="612.2" y="719.1" font-size="13.4" fill="#161616">105</text>
<text x="612.2" y="732.1" font-size="13.4" fill="#161616">45</text>
<text x="612.2" y="746.1" font-size="13.4" fill="#161616">129</text>
<text x="612.2" y="760.1" font-size="13.4" fill="#161616">113</text>
<text x="612.2" y="773.1" font-size="13.4" fill="#161616">30</text>
<text x="612.2" y="787.1" font-size="13.4" fill="#161616">23</text>
<text x="612.2" y="800.1" font-size="13.4" fill="#161616">96</text>
<text x="612.2" y="814.1" font-size="13.4" fill="#161616">69</text>
<text x="612.2" y="827.1" font-size="13.4" fill="#161616">81</text>
<text x="612.2" y="841.1" font-size="13.4" fill="#161616">77</text>
<text x="612.2" y="854.1" font-size="13.4" fill="#161616">35</text>
<text x="612.2" y="868.1" font-size="13.4" fill="#161616">40</text>
<rect x="667.4" y="504" width="4.4" height="95" fill="#26a69a"/>
<rect x="672.6" y="409.6" width="5.75" height="14" fill="#ffcfcf" stroke="#7a7e7e" stroke-width="1.25"/>
<rect x="672.6" y="423.6" width="17.93" height="13" fill="#ff8080" stroke="#7a7e7e" stroke-width="1.25"/>
<rect x="672.6" y="436.6" width="14.45" height="14" fill="#e6f9e6" stroke="#7a7e7e" stroke-width="1.25"/>
<rect x="672.6" y="450.6" width="27.64" height="13" fill="#e6f9e6" stroke="#7a7e7e" stroke-width="1.25"/>
<rect x="672.6" y="463.6" width="36.2" height="14" fill="#e6f9e6" stroke="#7a7e7e" stroke-width="1.25"/>
<rect x="672.6" y="477.6" width="34.89" height="13" fill="#ffe3e3" stroke="#7a7e7e" stroke-width="1.25"/>
<rect x="672.6" y="490.6" width="22.06" height="14" fill="#ffe3e3" stroke="#7a7e7e" stroke-width="1.25"/>
<rect x="672.6" y="504.6" width="18.51" height="13" fill="#ccf2cc" stroke="#7a7e7e" stroke-width="1.25"/>
<rect x="672.6" y="517.6" width="11.77" height="14" fill="#ff9696" stroke="#7a7e7e" stroke-width="1.25"/>
<rect x="672.6" y="531.6" width="2.56" height="13" fill="#e6f9e6" stroke="#7a7e7e" stroke-width="1.25"/>
<rect x="672.6" y="544.6" width="2.92" height="14" fill="#e6f9e6" stroke="#7a7e7e" stroke-width="1.25"/>
<rect x="672.6" y="558.6" width="6.18" height="13" fill="#ffcfcf" stroke="#7a7e7e" stroke-width="1.25"/>
<rect x="672" y="409" width="1.2" height="191.2" fill="#7a7e7e"/>
<rect x="672.75" y="463.7" width="51.5" height="14.1" fill="none" stroke="#000" stroke-width="1.3"/>
<text x="672.2" y="421.1" font-size="13.4" fill="#161616">100</text>
<text x="672.2" y="435.1" font-size="13.4" fill="#161616">268</text>
<text x="672.2" y="448.1" font-size="13.4" fill="#161616">220</text>
<text x="672.2" y="462.1" font-size="13.4" fill="#161616">402</text>
<text x="672.9" y="475" font-size="13.3" font-weight="bold" fill="#000">520</text>
<text x="672.2" y="489.1" font-size="13.4" fill="#161616">502</text>
<text x="672.2" y="502.1" font-size="13.4" fill="#161616">325</text>
<text x="672.2" y="516.1" font-size="13.4" fill="#161616">276</text>
<text x="672.2" y="529.1" font-size="13.4" fill="#161616">183</text>
<text x="672.2" y="543.1" font-size="13.4" fill="#161616">56</text>
<text x="672.2" y="556.1" font-size="13.4" fill="#161616">61</text>
<text x="672.2" y="570.1" font-size="13.4" fill="#161616">106</text>
<text x="672.2" y="583.1" font-size="13.4" fill="#161616">12</text>
<text x="672.2" y="597.1" font-size="13.4" fill="#161616">4</text>
<rect x="727.4" y="504" width="4.4" height="95" fill="#ef5350"/>
<rect x="732.6" y="490.6" width="1.47" height="14" fill="#ffe3e3" stroke="#7a7e7e" stroke-width="1.25"/>
<rect x="732.6" y="504.6" width="6.4" height="13" fill="#b0ebb0" stroke="#7a7e7e" stroke-width="1.25"/>
<rect x="732.6" y="517.6" width="9.66" height="14" fill="#ccf2cc" stroke="#7a7e7e" stroke-width="1.25"/>
<rect x="732.6" y="531.6" width="10.03" height="13" fill="#e6f9e6" stroke="#7a7e7e" stroke-width="1.25"/>
<rect x="732.6" y="544.6" width="13.43" height="14" fill="#b0ebb0" stroke="#7a7e7e" stroke-width="1.25"/>
<rect x="732.6" y="558.6" width="9.3" height="13" fill="#ff8080" stroke="#7a7e7e" stroke-width="1.25"/>
<rect x="732.6" y="571.6" width="4.88" height="14" fill="#ccf2cc" stroke="#7a7e7e" stroke-width="1.25"/>
<rect x="732.6" y="585.6" width="2.2" height="14" fill="#e6f9e6" stroke="#7a7e7e" stroke-width="1.25"/>
<rect x="732" y="477" width="1.2" height="123.2" fill="#7a7e7e"/>
<rect x="732.75" y="544.7" width="51.5" height="14.1" fill="none" stroke="#000" stroke-width="1.3"/>
<text x="732.2" y="489.1" font-size="13.4" fill="#161616">18</text>
<text x="732.2" y="502.1" font-size="13.4" fill="#161616">41</text>
<text x="732.2" y="516.1" font-size="13.4" fill="#161616">109</text>
<text x="732.2" y="529.1" font-size="13.4" fill="#161616">154</text>
<text x="732.2" y="543.1" font-size="13.4" fill="#161616">159</text>
<text x="732.9" y="556" font-size="13.3" font-weight="bold" fill="#000">206</text>
<text x="732.2" y="570.1" font-size="13.4" fill="#161616">149</text>
<text x="732.2" y="583.1" font-size="13.4" fill="#161616">88</text>
<text x="732.2" y="597.1" font-size="13.4" fill="#161616">51</text>
<rect x="788.4" y="192" width="4.4" height="407" fill="#26a69a"/>
<rect x="793.6" y="111.6" width="1.62" height="14" fill="#ccf2cc" stroke="#7a7e7e" stroke-width="1.25"/>
<rect x="793.6" y="125.6" width="6.62" height="13" fill="#b0ebb0" stroke="#7a7e7e" stroke-width="1.25"/>
<rect x="793.6" y="138.6" width="19.52" height="14" fill="#ffe3e3" stroke="#7a7e7e" stroke-width="1.25"/>
<rect x="793.6" y="152.6" width="42.51" height="13" fill="#ff9696" stroke="#7a7e7e" stroke-width="1.25"/>
<rect x="793.6" y="165.6" width="27.35" height="14" fill="#ffe3e3" stroke="#7a7e7e" stroke-width="1.25"/>
<rect x="793.6" y="179.6" width="20.9" height="13" fill="#ff8080" stroke="#7a7e7e" stroke-width="1.25"/>
<rect x="793.6" y="192.6" width="12.2" height="14" fill="#e6f9e6" stroke="#7a7e7e" stroke-width="1.25"/>
<rect x="793.6" y="206.6" width="1.69" height="13" fill="#e6f9e6" stroke="#7a7e7e" stroke-width="1.25"/>
<rect x="793.6" y="219.6" width="14.81" height="14" fill="#b0ebb0" stroke="#7a7e7e" stroke-width="1.25"/>
<rect x="793.6" y="233.6" width="6.47" height="14" fill="#ccf2cc" stroke="#7a7e7e" stroke-width="1.25"/>
<rect x="793.6" y="247.6" width="28.44" height="13" fill="#b0ebb0" stroke="#7a7e7e" stroke-width="1.25"/>
<rect x="793.6" y="260.6" width="49.76" height="14" fill="#ff0000" stroke="#7a7e7e" stroke-width="1.25"/>
<rect x="793.6" y="274.6" width="10.53" height="13" fill="#ff9696" stroke="#7a7e7e" stroke-width="1.25"/>
<rect x="793.6" y="301.6" width="1.33" height="13" fill="#fff" stroke="#7a7e7e" stroke-width="1.25"/>
<rect x="793.6" y="314.6" width="9.16" height="14" fill="#5cd75c" stroke="#7a7e7e" stroke-width="1.25"/>
<rect x="793.6" y="328.6" width="10.03" height="13" fill="#ccf2cc" stroke="#7a7e7e" stroke-width="1.25"/>
<rect x="793.6" y="341.6" width="4.66" height="14" fill="#ffcfcf" stroke="#7a7e7e" stroke-width="1.25"/>
<rect x="793.6" y="355.6" width="3.72" height="13" fill="#ccf2cc" stroke="#7a7e7e" stroke-width="1.25"/>
<rect x="793.6" y="382.6" width="1.4" height="13" fill="#fff" stroke="#7a7e7e" stroke-width="1.25"/>
<rect x="793.6" y="395.6" width="3" height="14" fill="#ffe3e3" stroke="#7a7e7e" stroke-width="1.25"/>
<rect x="793.6" y="450.6" width="1.62" height="13" fill="#ffe3e3" stroke="#7a7e7e" stroke-width="1.25"/>
<rect x="793.6" y="463.6" width="9.81" height="14" fill="#ff5252" stroke="#7a7e7e" stroke-width="1.25"/>
<rect x="793.6" y="477.6" width="10.39" height="13" fill="#ffe3e3" stroke="#7a7e7e" stroke-width="1.25"/>
<rect x="793.6" y="490.6" width="12.78" height="14" fill="#ffb2b2" stroke="#7a7e7e" stroke-width="1.25"/>
<rect x="793.6" y="504.6" width="7.27" height="13" fill="#ffcfcf" stroke="#7a7e7e" stroke-width="1.25"/>
<rect x="793.6" y="517.6" width="6.76" height="14" fill="#e6f9e6" stroke="#7a7e7e" stroke-width="1.25"/>
<rect x="793.6" y="531.6" width="3.28" height="13" fill="#ffe3e3" stroke="#7a7e7e" stroke-width="1.25"/>
<rect x="793.6" y="544.6" width="7.42" height="14" fill="#ffcfcf" stroke="#7a7e7e" stroke-width="1.25"/>
<rect x="793.6" y="585.6" width="1.84" height="14" fill="#ffe3e3" stroke="#7a7e7e" stroke-width="1.25"/>
<rect x="793.6" y="599.6" width="9.08" height="13" fill="#ffb2b2" stroke="#7a7e7e" stroke-width="1.25"/>
<rect x="793.6" y="612.6" width="1.33" height="14" fill="#fff" stroke="#7a7e7e" stroke-width="1.25"/>
<rect x="793.6" y="626.6" width="8" height="13" fill="#ffcfcf" stroke="#7a7e7e" stroke-width="1.25"/>
<rect x="793.6" y="639.6" width="7.05" height="14" fill="#e6f9e6" stroke="#7a7e7e" stroke-width="1.25"/>
<rect x="793.6" y="653.6" width="15.68" height="13" fill="#ccf2cc" stroke="#7a7e7e" stroke-width="1.25"/>
<rect x="793.6" y="666.6" width="12.42" height="14" fill="#ccf2cc" stroke="#7a7e7e" stroke-width="1.25"/>
<rect x="793.6" y="680.6" width="6.62" height="13" fill="#8ce38c" stroke="#7a7e7e" stroke-width="1.25"/>
<rect x="793.6" y="693.6" width="10.46" height="14" fill="#8ce38c" stroke="#7a7e7e" stroke-width="1.25"/>
<rect x="793.6" y="707.6" width="6.76" height="13" fill="#e6f9e6" stroke="#7a7e7e" stroke-width="1.25"/>
<rect x="793.6" y="720.6" width="11.55" height="14" fill="#e6f9e6" stroke="#7a7e7e" stroke-width="1.25"/>
<rect x="793.6" y="734.6" width="7.27" height="14" fill="#ff9696" stroke="#7a7e7e" stroke-width="1.25"/>
<rect x="793.6" y="748.6" width="12.35" height="13" fill="#ccf2cc" stroke="#7a7e7e" stroke-width="1.25"/>
<rect x="793.6" y="761.6" width="11.4" height="14" fill="#ff5252" stroke="#7a7e7e" stroke-width="1.25"/>
<rect x="793" y="111" width="1.2" height="678.2" fill="#7a7e7e"/>
<rect x="793.75" y="260.7" width="51.5" height="14.1" fill="none" stroke="#000" stroke-width="1.3"/>
<text x="793.2" y="123.1" font-size="13.4" fill="#161616">43</text>
<text x="793.2" y="137.1" font-size="13.4" fill="#161616">112</text>
<text x="793.2" y="150.1" font-size="13.4" fill="#161616">290</text>
<text x="793.2" y="164.1" font-size="13.4" fill="#161616">607</text>
<text x="793.2" y="177.1" font-size="13.4" fill="#161616">398</text>
<text x="793.2" y="191.1" font-size="13.4" fill="#161616">309</text>
<text x="793.2" y="204.1" font-size="13.4" fill="#161616">189</text>
<text x="793.2" y="218.1" font-size="13.4" fill="#161616">44</text>
<text x="793.2" y="231.1" font-size="13.4" fill="#161616">225</text>
<text x="793.2" y="245.1" font-size="13.4" fill="#161616">110</text>
<text x="793.2" y="259.1" font-size="13.4" fill="#161616">413</text>
<text x="793.9" y="272" font-size="13.3" font-weight="bold" fill="#000">707</text>
<text x="793.2" y="286.1" font-size="13.4" fill="#161616">166</text>
<text x="793.2" y="299.1" font-size="13.4" fill="#161616">10</text>
<text x="793.2" y="313.1" font-size="13.4" fill="#161616">39</text>
<text x="793.2" y="326.1" font-size="13.4" fill="#161616">147</text>
<text x="793.2" y="340.1" font-size="13.4" fill="#161616">159</text>
<text x="793.2" y="353.1" font-size="13.4" fill="#161616">85</text>
<text x="793.2" y="367.1" font-size="13.4" fill="#161616">72</text>
<text x="793.2" y="380.1" font-size="13.4" fill="#161616">22</text>
<text x="793.2" y="394.1" font-size="13.4" fill="#161616">40</text>
<text x="793.2" y="407.1" font-size="13.4" fill="#161616">62</text>
<text x="793.2" y="421.1" font-size="13.4" fill="#161616">19</text>
<text x="793.2" y="435.1" font-size="13.4" fill="#161616">5</text>
<text x="793.2" y="448.1" font-size="13.4" fill="#161616">15</text>
<text x="793.2" y="462.1" font-size="13.4" fill="#161616">43</text>
<text x="793.2" y="475.1" font-size="13.4" fill="#161616">156</text>
<text x="793.2" y="489.1" font-size="13.4" fill="#161616">164</text>
<text x="793.2" y="502.1" font-size="13.4" fill="#161616">197</text>
<text x="793.2" y="516.1" font-size="13.4" fill="#161616">121</text>
<text x="793.2" y="529.1" font-size="13.4" fill="#161616">114</text>
<text x="793.2" y="543.1" font-size="13.4" fill="#161616">66</text>
<text x="793.2" y="556.1" font-size="13.4" fill="#161616">123</text>
<text x="793.2" y="570.1" font-size="13.4" fill="#161616">21</text>
<text x="793.2" y="583.1" font-size="13.4" fill="#161616">28</text>
<text x="793.2" y="597.1" font-size="13.4" fill="#161616">46</text>
<text x="793.2" y="611.1" font-size="13.4" fill="#161616">146</text>
<text x="793.2" y="624.1" font-size="13.4" fill="#161616">39</text>
<text x="793.2" y="638.1" font-size="13.4" fill="#161616">131</text>
<text x="793.2" y="651.1" font-size="13.4" fill="#161616">118</text>
<text x="793.2" y="665.1" font-size="13.4" fill="#161616">237</text>
<text x="793.2" y="678.1" font-size="13.4" fill="#161616">192</text>
<text x="793.2" y="692.1" font-size="13.4" fill="#161616">112</text>
<text x="793.2" y="705.1" font-size="13.4" fill="#161616">165</text>
<text x="793.2" y="719.1" font-size="13.4" fill="#161616">114</text>
<text x="793.2" y="732.1" font-size="13.4" fill="#161616">180</text>
<text x="793.2" y="746.1" font-size="13.4" fill="#161616">121</text>
<text x="793.2" y="760.1" font-size="13.4" fill="#161616">191</text>
<text x="793.2" y="773.1" font-size="13.4" fill="#161616">178</text>
<text x="793.2" y="787.1" font-size="13.4" fill="#161616">30</text>
<rect x="848.4" y="192" width="4.4" height="149" fill="#ef5350"/>
<rect x="853.6" y="165.6" width="1.98" height="14" fill="#ffe3e3" stroke="#7a7e7e" stroke-width="1.25"/>
<rect x="853.6" y="179.6" width="16.41" height="13" fill="#5cd75c" stroke="#7a7e7e" stroke-width="1.25"/>
<rect x="853.6" y="192.6" width="17.57" height="14" fill="#ffe3e3" stroke="#7a7e7e" stroke-width="1.25"/>
<rect x="853.6" y="206.6" width="19.52" height="13" fill="#e6f9e6" stroke="#7a7e7e" stroke-width="1.25"/>
<rect x="853.6" y="219.6" width="18.65" height="14" fill="#ffe3e3" stroke="#7a7e7e" stroke-width="1.25"/>
<rect x="853.6" y="233.6" width="14.81" height="14" fill="#ff8080" stroke="#7a7e7e" stroke-width="1.25"/>
<rect x="853.6" y="247.6" width="19.6" height="13" fill="#ffb2b2" stroke="#7a7e7e" stroke-width="1.25"/>
<rect x="853.6" y="260.6" width="19.6" height="14" fill="#ffb2b2" stroke="#7a7e7e" stroke-width="1.25"/>
<rect x="853.6" y="274.6" width="4.08" height="13" fill="#ffe3e3" stroke="#7a7e7e" stroke-width="1.25"/>
<rect x="853.6" y="287.6" width="4.66" height="14" fill="#ffcfcf" stroke="#7a7e7e" stroke-width="1.25"/>
<rect x="853.6" y="301.6" width="9.59" height="13" fill="#ffe3e3" stroke="#7a7e7e" stroke-width="1.25"/>
<rect x="853.6" y="314.6" width="8.07" height="14" fill="#e6f9e6" stroke="#7a7e7e" stroke-width="1.25"/>
<rect x="853.6" y="328.6" width="16.55" height="13" fill="#e6f9e6" stroke="#7a7e7e" stroke-width="1.25"/>
<rect x="853.6" y="341.6" width="8" height="14" fill="#ffe3e3" stroke="#7a7e7e" stroke-width="1.25"/>
<rect x="853.6" y="355.6" width="7.92" height="13" fill="#ffe3e3" stroke="#7a7e7e" stroke-width="1.25"/>
<rect x="853.6" y="368.6" width="5.17" height="14" fill="#ffcfcf" stroke="#7a7e7e" stroke-width="1.25"/>
<rect x="853.6" y="382.6" width="6.91" height="13" fill="#ffe3e3" stroke="#7a7e7e" stroke-width="1.25"/>
<rect x="853" y="152" width="1.2" height="258.2" fill="#7a7e7e"/>
<rect x="853.75" y="247.7" width="51.5" height="13.1" fill="none" stroke="#000" stroke-width="1.3"/>
<rect x="853.75" y="260.7" width="51.5" height="14.1" fill="none" stroke="#000" stroke-width="1.3"/>
<text x="853.2" y="164.1" font-size="13.4" fill="#161616">14</text>
<text x="853.2" y="177.1" font-size="13.4" fill="#161616">48</text>
<text x="853.2" y="191.1" font-size="13.4" fill="#161616">247</text>
<text x="853.2" y="204.1" font-size="13.4" fill="#161616">263</text>
<text x="853.2" y="218.1" font-size="13.4" fill="#161616">290</text>
<text x="853.2" y="231.1" font-size="13.4" fill="#161616">278</text>
<text x="853.2" y="245.1" font-size="13.4" fill="#161616">225</text>
<text x="853.9" y="259" font-size="13.3" font-weight="bold" fill="#000">291</text>
<text x="853.9" y="272" font-size="13.3" font-weight="bold" fill="#000">291</text>
<text x="853.2" y="286.1" font-size="13.4" fill="#161616">77</text>
<text x="853.2" y="299.1" font-size="13.4" fill="#161616">85</text>
<text x="853.2" y="313.1" font-size="13.4" fill="#161616">153</text>
<text x="853.2" y="326.1" font-size="13.4" fill="#161616">132</text>
<text x="853.2" y="340.1" font-size="13.4" fill="#161616">249</text>
<text x="853.2" y="353.1" font-size="13.4" fill="#161616">131</text>
<text x="853.2" y="367.1" font-size="13.4" fill="#161616">130</text>
<text x="853.2" y="380.1" font-size="13.4" fill="#161616">92</text>
<text x="853.2" y="394.1" font-size="13.4" fill="#161616">116</text>
<text x="853.2" y="407.1" font-size="13.4" fill="#161616">8</text>
<rect x="908.4" y="314" width="4.4" height="41" fill="#ef5350"/>
<rect x="913.6" y="247.6" width="15.54" height="13" fill="#ccf2cc" stroke="#7a7e7e" stroke-width="1.25"/>
<rect x="913.6" y="260.6" width="19.96" height="14" fill="#ffe3e3" stroke="#7a7e7e" stroke-width="1.25"/>
<rect x="913.6" y="274.6" width="8.5" height="13" fill="#ffcfcf" stroke="#7a7e7e" stroke-width="1.25"/>
<rect x="913.6" y="287.6" width="6.55" height="14" fill="#ffcfcf" stroke="#7a7e7e" stroke-width="1.25"/>
<rect x="913.6" y="301.6" width="13" height="13" fill="#ffe3e3" stroke="#7a7e7e" stroke-width="1.25"/>
<rect x="913.6" y="314.6" width="10.39" height="14" fill="#ccf2cc" stroke="#7a7e7e" stroke-width="1.25"/>
<rect x="913.6" y="328.6" width="21.92" height="13" fill="#ff8080" stroke="#7a7e7e" stroke-width="1.25"/>
<rect x="913.6" y="341.6" width="11.26" height="14" fill="#b0ebb0" stroke="#7a7e7e" stroke-width="1.25"/>
<rect x="913.6" y="355.6" width="5.6" height="13" fill="#e6f9e6" stroke="#7a7e7e" stroke-width="1.25"/>
<rect x="913.6" y="368.6" width="1.91" height="14" fill="#e6f9e6" stroke="#7a7e7e" stroke-width="1.25"/>
<rect x="913.6" y="382.6" width="4.44" height="13" fill="#e6f9e6" stroke="#7a7e7e" stroke-width="1.25"/>
<rect x="913.6" y="395.6" width="1.62" height="14" fill="#ffe3e3" stroke="#7a7e7e" stroke-width="1.25"/>
<rect x="913" y="233" width="1.2" height="191.2" fill="#7a7e7e"/>
<rect x="913.75" y="328.7" width="51.5" height="13.1" fill="none" stroke="#000" stroke-width="1.3"/>
<text x="913.2" y="245.1" font-size="13.4" fill="#161616">19</text>
<text x="913.2" y="259.1" font-size="13.4" fill="#161616">235</text>
<text x="913.2" y="272.1" font-size="13.4" fill="#161616">296</text>
<text x="913.2" y="286.1" font-size="13.4" fill="#161616">138</text>
<text x="913.2" y="299.1" font-size="13.4" fill="#161616">111</text>
<text x="913.2" y="313.1" font-size="13.4" fill="#161616">200</text>
<text x="913.2" y="326.1" font-size="13.4" fill="#161616">164</text>
<text x="913.9" y="340" font-size="13.3" font-weight="bold" fill="#000">323</text>
<text x="913.2" y="353.1" font-size="13.4" fill="#161616">176</text>
<text x="913.2" y="367.1" font-size="13.4" fill="#161616">98</text>
<text x="913.2" y="380.1" font-size="13.4" fill="#161616">47</text>
<text x="913.2" y="394.1" font-size="13.4" fill="#161616">82</text>
<text x="913.2" y="407.1" font-size="13.4" fill="#161616">43</text>
<text x="913.2" y="421.1" font-size="13.4" fill="#161616">1</text>
<rect x="969.4" y="328" width="4.4" height="13" fill="#3c3c3c"/>
<rect x="974.6" y="301.6" width="8.94" height="13" fill="#b0ebb0" stroke="#7a7e7e" stroke-width="1.25"/>
<rect x="974.6" y="314.6" width="16.04" height="14" fill="#ffb2b2" stroke="#7a7e7e" stroke-width="1.25"/>
<rect x="974.6" y="328.6" width="15.61" height="13" fill="#ffe3e3" stroke="#7a7e7e" stroke-width="1.25"/>
<rect x="974.6" y="341.6" width="9.88" height="14" fill="#e6f9e6" stroke="#7a7e7e" stroke-width="1.25"/>
<rect x="974.6" y="355.6" width="7.63" height="13" fill="#e6f9e6" stroke="#7a7e7e" stroke-width="1.25"/>
<rect x="974.6" y="368.6" width="4.01" height="14" fill="#ffcfcf" stroke="#7a7e7e" stroke-width="1.25"/>
<rect x="974.6" y="382.6" width="3.72" height="13" fill="#ffe3e3" stroke="#7a7e7e" stroke-width="1.25"/>
<rect x="974.6" y="395.6" width="8.29" height="14" fill="#e6f9e6" stroke="#7a7e7e" stroke-width="1.25"/>
<rect x="974" y="287" width="1.2" height="137.2" fill="#7a7e7e"/>
<rect x="974.75" y="314.7" width="51.5" height="14.1" fill="none" stroke="#000" stroke-width="1.3"/>
<text x="974.2" y="299.1" font-size="13.4" fill="#161616">11</text>
<text x="974.2" y="313.1" font-size="13.4" fill="#161616">144</text>
<text x="974.9" y="326" font-size="13.3" font-weight="bold" fill="#000">242</text>
<text x="974.2" y="340.1" font-size="13.4" fill="#161616">236</text>
<text x="974.2" y="353.1" font-size="13.4" fill="#161616">157</text>
<text x="974.2" y="367.1" font-size="13.4" fill="#161616">126</text>
<text x="974.2" y="380.1" font-size="13.4" fill="#161616">76</text>
<text x="974.2" y="394.1" font-size="13.4" fill="#161616">72</text>
<text x="974.2" y="407.1" font-size="13.4" fill="#161616">135</text>
<text x="974.2" y="421.1" font-size="13.4" fill="#161616">24</text>
<rect x="1029.4" y="274" width="4.4" height="67" fill="#26a69a"/>
<rect x="1034.6" y="260.6" width="4.01" height="14" fill="#ccf2cc" stroke="#7a7e7e" stroke-width="1.25"/>
<rect x="1034.6" y="287.6" width="10.03" height="14" fill="#8ce38c" stroke="#7a7e7e" stroke-width="1.25"/>
<rect x="1034.6" y="301.6" width="6.62" height="13" fill="#ccf2cc" stroke="#7a7e7e" stroke-width="1.25"/>
<rect x="1034.6" y="314.6" width="5.82" height="14" fill="#ffcfcf" stroke="#7a7e7e" stroke-width="1.25"/>
<rect x="1034.6" y="328.6" width="14.3" height="13" fill="#e6f9e6" stroke="#7a7e7e" stroke-width="1.25"/>
<rect x="1034.6" y="341.6" width="13.22" height="14" fill="#ffe3e3" stroke="#7a7e7e" stroke-width="1.25"/>
<rect x="1034.6" y="355.6" width="13.94" height="13" fill="#ffe3e3" stroke="#7a7e7e" stroke-width="1.25"/>
<rect x="1034.6" y="368.6" width="11.91" height="14" fill="#ffe3e3" stroke="#7a7e7e" stroke-width="1.25"/>
<rect x="1034.6" y="382.6" width="6.55" height="13" fill="#ffe3e3" stroke="#7a7e7e" stroke-width="1.25"/>
<rect x="1034" y="247" width="1.2" height="163.2" fill="#7a7e7e"/>
<rect x="1034.75" y="328.7" width="51.5" height="13.1" fill="none" stroke="#000" stroke-width="1.3"/>
<text x="1034.2" y="259.1" font-size="13.4" fill="#161616">3</text>
<text x="1034.2" y="272.1" font-size="13.4" fill="#161616">76</text>
<text x="1034.2" y="286.1" font-size="13.4" fill="#161616">31</text>
<text x="1034.2" y="299.1" font-size="13.4" fill="#161616">159</text>
<text x="1034.2" y="313.1" font-size="13.4" fill="#161616">112</text>
<text x="1034.2" y="326.1" font-size="13.4" fill="#161616">101</text>
<text x="1034.9" y="340" font-size="13.3" font-weight="bold" fill="#000">218</text>
<text x="1034.2" y="353.1" font-size="13.4" fill="#161616">203</text>
<text x="1034.2" y="367.1" font-size="13.4" fill="#161616">213</text>
<text x="1034.2" y="380.1" font-size="13.4" fill="#161616">185</text>
<text x="1034.2" y="394.1" font-size="13.4" fill="#161616">111</text>
<text x="1034.2" y="407.1" font-size="13.4" fill="#161616">2</text>
<rect x="1089.4" y="247" width="4.4" height="40" fill="#26a69a"/>
<rect x="1094.6" y="98.6" width="4.23" height="13" fill="#ccf2cc" stroke="#7a7e7e" stroke-width="1.25"/>
<rect x="1094.6" y="111.6" width="11.4" height="14" fill="#e6f9e6" stroke="#7a7e7e" stroke-width="1.25"/>
<rect x="1094.6" y="125.6" width="10.17" height="13" fill="#ffcfcf" stroke="#7a7e7e" stroke-width="1.25"/>
<rect x="1094.6" y="138.6" width="13.07" height="14" fill="#ffe3e3" stroke="#7a7e7e" stroke-width="1.25"/>
<rect x="1094.6" y="152.6" width="22.28" height="13" fill="#ccf2cc" stroke="#7a7e7e" stroke-width="1.25"/>
<rect x="1094.6" y="165.6" width="24.89" height="14" fill="#ffcfcf" stroke="#7a7e7e" stroke-width="1.25"/>
<rect x="1094.6" y="179.6" width="35.91" height="13" fill="#ff0000" stroke="#7a7e7e" stroke-width="1.25"/>
<rect x="1094.6" y="192.6" width="29.17" height="14" fill="#ffe3e3" stroke="#7a7e7e" stroke-width="1.25"/>
<rect x="1094.6" y="206.6" width="30.98" height="13" fill="#8ce38c" stroke="#7a7e7e" stroke-width="1.25"/>
<rect x="1094.6" y="219.6" width="16.77" height="14" fill="#e6f9e6" stroke="#7a7e7e" stroke-width="1.25"/>
<rect x="1094.6" y="233.6" width="14.38" height="14" fill="#ffe3e3" stroke="#7a7e7e" stroke-width="1.25"/>
<rect x="1094.6" y="247.6" width="5.6" height="13" fill="#ffcfcf" stroke="#7a7e7e" stroke-width="1.25"/>
<rect x="1094.6" y="260.6" width="3.86" height="14" fill="#ffcfcf" stroke="#7a7e7e" stroke-width="1.25"/>
<rect x="1094.6" y="274.6" width="2.27" height="13" fill="#ffe3e3" stroke="#7a7e7e" stroke-width="1.25"/>
<rect x="1094" y="84" width="1.2" height="231.2" fill="#7a7e7e"/>
<rect x="1094.75" y="179.7" width="51.5" height="13.1" fill="none" stroke="#000" stroke-width="1.3"/>
<text x="1094.2" y="96.1" font-size="13.4" fill="#161616">9</text>
<text x="1094.2" y="110.1" font-size="13.4" fill="#161616">79</text>
<text x="1094.2" y="123.1" font-size="13.4" fill="#161616">178</text>
<text x="1094.2" y="137.1" font-size="13.4" fill="#161616">161</text>
<text x="1094.2" y="150.1" font-size="13.4" fill="#161616">201</text>
<text x="1094.2" y="164.1" font-size="13.4" fill="#161616">328</text>
<text x="1094.2" y="177.1" font-size="13.4" fill="#161616">364</text>
<text x="1094.9" y="191" font-size="13.3" font-weight="bold" fill="#000">516</text>
<text x="1094.2" y="204.1" font-size="13.4" fill="#161616">423</text>
<text x="1094.2" y="218.1" font-size="13.4" fill="#161616">448</text>
<text x="1094.2" y="231.1" font-size="13.4" fill="#161616">252</text>
<text x="1094.2" y="245.1" font-size="13.4" fill="#161616">219</text>
<text x="1094.2" y="259.1" font-size="13.4" fill="#161616">98</text>
<text x="1094.2" y="272.1" font-size="13.4" fill="#161616">74</text>
<text x="1094.2" y="286.1" font-size="13.4" fill="#161616">52</text>
<text x="1094.2" y="299.1" font-size="13.4" fill="#161616">21</text>
<text x="1094.2" y="313.1" font-size="13.4" fill="#161616">9</text>
<rect x="1150.4" y="247" width="4.4" height="148" fill="#ef5350"/>
<rect x="1155.6" y="260.6" width="1.91" height="14" fill="#e6f9e6" stroke="#7a7e7e" stroke-width="1.25"/>
<rect x="1155.6" y="274.6" width="7.92" height="13" fill="#ffcfcf" stroke="#7a7e7e" stroke-width="1.25"/>
<rect x="1155.6" y="287.6" width="11.48" height="14" fill="#e6f9e6" stroke="#7a7e7e" stroke-width="1.25"/>
<rect x="1155.6" y="301.6" width="11.48" height="13" fill="#ccf2cc" stroke="#7a7e7e" stroke-width="1.25"/>
<rect x="1155.6" y="314.6" width="21.63" height="14" fill="#b0ebb0" stroke="#7a7e7e" stroke-width="1.25"/>
<rect x="1155.6" y="328.6" width="36.78" height="13" fill="#ff8080" stroke="#7a7e7e" stroke-width="1.25"/>
<rect x="1155.6" y="341.6" width="30.98" height="14" fill="#ccf2cc" stroke="#7a7e7e" stroke-width="1.25"/>
<rect x="1155.6" y="355.6" width="13.36" height="13" fill="#ffb2b2" stroke="#7a7e7e" stroke-width="1.25"/>
<rect x="1155.6" y="368.6" width="6.26" height="14" fill="#ffe3e3" stroke="#7a7e7e" stroke-width="1.25"/>
<rect x="1155.6" y="382.6" width="9.01" height="13" fill="#ffb2b2" stroke="#7a7e7e" stroke-width="1.25"/>
<rect x="1155.6" y="395.6" width="6.76" height="14" fill="#e6f9e6" stroke="#7a7e7e" stroke-width="1.25"/>
<rect x="1155.6" y="409.6" width="8.87" height="14" fill="#b0ebb0" stroke="#7a7e7e" stroke-width="1.25"/>
<rect x="1155.6" y="423.6" width="10.39" height="13" fill="#e6f9e6" stroke="#7a7e7e" stroke-width="1.25"/>
<rect x="1155.6" y="436.6" width="13.22" height="14" fill="#ccf2cc" stroke="#7a7e7e" stroke-width="1.25"/>
<rect x="1155.6" y="450.6" width="22.13" height="13" fill="#ffb2b2" stroke="#7a7e7e" stroke-width="1.25"/>
<rect x="1155.6" y="463.6" width="24.09" height="14" fill="#b0ebb0" stroke="#7a7e7e" stroke-width="1.25"/>
<rect x="1155.6" y="477.6" width="49.61" height="13" fill="#8ce38c" stroke="#7a7e7e" stroke-width="1.25"/>
<rect x="1155.6" y="490.6" width="48.09" height="14" fill="#ff9696" stroke="#7a7e7e" stroke-width="1.25"/>
<rect x="1155.6" y="504.6" width="24.38" height="13" fill="#ccf2cc" stroke="#7a7e7e" stroke-width="1.25"/>
<rect x="1155.6" y="517.6" width="21.92" height="14" fill="#f0fbf0" stroke="#7a7e7e" stroke-width="1.25"/>
<rect x="1155.6" y="531.6" width="27.21" height="13" fill="#ccf2cc" stroke="#7a7e7e" stroke-width="1.25"/>
<rect x="1155.6" y="544.6" width="37.43" height="14" fill="#f0fbf0" stroke="#7a7e7e" stroke-width="1.25"/>
<rect x="1155.6" y="558.6" width="38.3" height="13" fill="#ffcfcf" stroke="#7a7e7e" stroke-width="1.25"/>
<rect x="1155.6" y="571.6" width="37.36" height="14" fill="#f0fbf0" stroke="#7a7e7e" stroke-width="1.25"/>
<rect x="1155.6" y="585.6" width="22.64" height="14" fill="#ff8080" stroke="#7a7e7e" stroke-width="1.25"/>
<rect x="1155.6" y="599.6" width="14.16" height="13" fill="#ffb2b2" stroke="#7a7e7e" stroke-width="1.25"/>
<rect x="1155.6" y="612.6" width="6.98" height="14" fill="#ff8080" stroke="#7a7e7e" stroke-width="1.25"/>
<rect x="1155" y="247" width="1.2" height="380.2" fill="#7a7e7e"/>
<rect x="1155.75" y="477.7" width="51.5" height="13.1" fill="none" stroke="#000" stroke-width="1.3"/>
<text x="1155.2" y="259.1" font-size="13.4" fill="#161616">6</text>
<text x="1155.2" y="272.1" font-size="13.4" fill="#161616">47</text>
<text x="1155.2" y="286.1" font-size="13.4" fill="#161616">130</text>
<text x="1155.2" y="299.1" font-size="13.4" fill="#161616">179</text>
<text x="1155.2" y="313.1" font-size="13.4" fill="#161616">179</text>
<text x="1155.2" y="326.1" font-size="13.4" fill="#161616">319</text>
<text x="1155.2" y="340.1" font-size="13.4" fill="#161616">528</text>
<text x="1155.2" y="353.1" font-size="13.4" fill="#161616">448</text>
<text x="1155.2" y="367.1" font-size="13.4" fill="#161616">205</text>
<text x="1155.2" y="380.1" font-size="13.4" fill="#161616">107</text>
<text x="1155.2" y="394.1" font-size="13.4" fill="#161616">145</text>
<text x="1155.2" y="407.1" font-size="13.4" fill="#161616">114</text>
<text x="1155.2" y="421.1" font-size="13.4" fill="#161616">143</text>
<text x="1155.2" y="435.1" font-size="13.4" fill="#161616">164</text>
<text x="1155.2" y="448.1" font-size="13.4" fill="#161616">203</text>
<text x="1155.2" y="462.1" font-size="13.4" fill="#161616">326</text>
<text x="1155.2" y="475.1" font-size="13.4" fill="#161616">353</text>
<text x="1155.9" y="489" font-size="13.3" font-weight="bold" fill="#000">705</text>
<text x="1155.2" y="502.1" font-size="13.4" fill="#161616">684</text>
<text x="1155.2" y="516.1" font-size="13.4" fill="#161616">357</text>
<text x="1155.2" y="529.1" font-size="13.4" fill="#161616">323</text>
<text x="1155.2" y="543.1" font-size="13.4" fill="#161616">396</text>
<text x="1155.2" y="556.1" font-size="13.4" fill="#161616">537</text>
<text x="1155.2" y="570.1" font-size="13.4" fill="#161616">549</text>
<text x="1155.2" y="583.1" font-size="13.4" fill="#161616">536</text>
<text x="1155.2" y="597.1" font-size="13.4" fill="#161616">333</text>
<text x="1155.2" y="611.1" font-size="13.4" fill="#161616">216</text>
<text x="1155.2" y="624.1" font-size="13.4" fill="#161616">117</text>
<rect x="1210.4" y="138" width="4.4" height="257" fill="#26a69a"/>
<rect x="1215.6" y="84.6" width="7.2" height="14" fill="#8ce38c" stroke="#7a7e7e" stroke-width="1.25"/>
<rect x="1215.6" y="98.6" width="3.94" height="13" fill="#ccf2cc" stroke="#7a7e7e" stroke-width="1.25"/>
<rect x="1215.6" y="111.6" width="10.68" height="14" fill="#e6f9e6" stroke="#7a7e7e" stroke-width="1.25"/>
<rect x="1215.6" y="125.6" width="9.66" height="13" fill="#ffb2b2" stroke="#7a7e7e" stroke-width="1.25"/>
<rect x="1215.6" y="138.6" width="7.2" height="14" fill="#ccf2cc" stroke="#7a7e7e" stroke-width="1.25"/>
<rect x="1215.6" y="152.6" width="23.37" height="13" fill="#24c924" stroke="#7a7e7e" stroke-width="1.25"/>
<rect x="1215.6" y="165.6" width="9.16" height="14" fill="#ffcfcf" stroke="#7a7e7e" stroke-width="1.25"/>
<rect x="1215.6" y="179.6" width="8.29" height="13" fill="#e6f9e6" stroke="#7a7e7e" stroke-width="1.25"/>
<rect x="1215.6" y="192.6" width="21.48" height="14" fill="#ff9696" stroke="#7a7e7e" stroke-width="1.25"/>
<rect x="1215.6" y="206.6" width="15.61" height="13" fill="#ffb2b2" stroke="#7a7e7e" stroke-width="1.25"/>
<rect x="1215.6" y="219.6" width="8.29" height="14" fill="#ffe3e3" stroke="#7a7e7e" stroke-width="1.25"/>
<rect x="1215.6" y="233.6" width="2.05" height="14" fill="#e6f9e6" stroke="#7a7e7e" stroke-width="1.25"/>
<rect x="1215.6" y="247.6" width="9.59" height="13" fill="#ccf2cc" stroke="#7a7e7e" stroke-width="1.25"/>
<rect x="1215.6" y="260.6" width="6.33" height="14" fill="#ccf2cc" stroke="#7a7e7e" stroke-width="1.25"/>
<rect x="1215.6" y="274.6" width="6.47" height="13" fill="#ffcfcf" stroke="#7a7e7e" stroke-width="1.25"/>
<rect x="1215.6" y="287.6" width="4.01" height="14" fill="#ffcfcf" stroke="#7a7e7e" stroke-width="1.25"/>
<rect x="1215.6" y="301.6" width="2.34" height="13" fill="#ffe3e3" stroke="#7a7e7e" stroke-width="1.25"/>
<rect x="1215.6" y="314.6" width="2.71" height="14" fill="#ccf2cc" stroke="#7a7e7e" stroke-width="1.25"/>
<rect x="1215.6" y="341.6" width="2.49" height="14" fill="#ccf2cc" stroke="#7a7e7e" stroke-width="1.25"/>
<rect x="1215.6" y="355.6" width="6.33" height="13" fill="#ffe3e3" stroke="#7a7e7e" stroke-width="1.25"/>
<rect x="1215.6" y="368.6" width="13.58" height="14" fill="#e6f9e6" stroke="#7a7e7e" stroke-width="1.25"/>
<rect x="1215.6" y="382.6" width="18.51" height="13" fill="#e6f9e6" stroke="#7a7e7e" stroke-width="1.25"/>
<rect x="1215.6" y="395.6" width="20.68" height="14" fill="#ffb2b2" stroke="#7a7e7e" stroke-width="1.25"/>
<rect x="1215.6" y="409.6" width="17.2" height="14" fill="#ffb2b2" stroke="#7a7e7e" stroke-width="1.25"/>
<rect x="1215.6" y="423.6" width="25.76" height="13" fill="#e6f9e6" stroke="#7a7e7e" stroke-width="1.25"/>
<rect x="1215.6" y="436.6" width="31.49" height="14" fill="#ffe3e3" stroke="#7a7e7e" stroke-width="1.25"/>
<rect x="1215.6" y="450.6" width="32.57" height="13" fill="#ccf2cc" stroke="#7a7e7e" stroke-width="1.25"/>
<rect x="1215.6" y="463.6" width="11.98" height="14" fill="#ffb2b2" stroke="#7a7e7e" stroke-width="1.25"/>
<rect x="1215.6" y="477.6" width="9.45" height="13" fill="#ffe3e3" stroke="#7a7e7e" stroke-width="1.25"/>
<rect x="1215.6" y="490.6" width="3.5" height="14" fill="#e6f9e6" stroke="#7a7e7e" stroke-width="1.25"/>
<rect x="1215.6" y="504.6" width="9.74" height="13" fill="#ccf2cc" stroke="#7a7e7e" stroke-width="1.25"/>
<rect x="1215.6" y="517.6" width="10.75" height="14" fill="#ccf2cc" stroke="#7a7e7e" stroke-width="1.25"/>
<rect x="1215.6" y="531.6" width="1.47" height="13" fill="#ffe3e3" stroke="#7a7e7e" stroke-width="1.25"/>
<rect x="1215" y="84" width="1.2" height="475.2" fill="#7a7e7e"/>
<rect x="1215.75" y="450.7" width="51.5" height="13.1" fill="none" stroke="#000" stroke-width="1.3"/>
<text x="1215.2" y="96.1" font-size="13.4" fill="#161616">120</text>
<text x="1215.2" y="110.1" font-size="13.4" fill="#161616">75</text>
<text x="1215.2" y="123.1" font-size="13.4" fill="#161616">168</text>
<text x="1215.2" y="137.1" font-size="13.4" fill="#161616">154</text>
<text x="1215.2" y="150.1" font-size="13.4" fill="#161616">120</text>
<text x="1215.2" y="164.1" font-size="13.4" fill="#161616">343</text>
<text x="1215.2" y="177.1" font-size="13.4" fill="#161616">147</text>
<text x="1215.2" y="191.1" font-size="13.4" fill="#161616">135</text>
<text x="1215.2" y="204.1" font-size="13.4" fill="#161616">317</text>
<text x="1215.2" y="218.1" font-size="13.4" fill="#161616">236</text>
<text x="1215.2" y="231.1" font-size="13.4" fill="#161616">135</text>
<text x="1215.2" y="245.1" font-size="13.4" fill="#161616">49</text>
<text x="1215.2" y="259.1" font-size="13.4" fill="#161616">153</text>
<text x="1215.2" y="272.1" font-size="13.4" fill="#161616">108</text>
<text x="1215.2" y="286.1" font-size="13.4" fill="#161616">110</text>
<text x="1215.2" y="299.1" font-size="13.4" fill="#161616">76</text>
<text x="1215.2" y="313.1" font-size="13.4" fill="#161616">53</text>
<text x="1215.2" y="326.1" font-size="13.4" fill="#161616">58</text>
<text x="1215.2" y="340.1" font-size="13.4" fill="#161616">15</text>
<text x="1215.2" y="353.1" font-size="13.4" fill="#161616">55</text>
<text x="1215.2" y="367.1" font-size="13.4" fill="#161616">108</text>
<text x="1215.2" y="380.1" font-size="13.4" fill="#161616">208</text>
<text x="1215.2" y="394.1" font-size="13.4" fill="#161616">276</text>
<text x="1215.2" y="407.1" font-size="13.4" fill="#161616">306</text>
<text x="1215.2" y="421.1" font-size="13.4" fill="#161616">258</text>
<text x="1215.2" y="435.1" font-size="13.4" fill="#161616">376</text>
<text x="1215.2" y="448.1" font-size="13.4" fill="#161616">455</text>
<text x="1215.9" y="462" font-size="13.3" font-weight="bold" fill="#000">470</text>
<text x="1215.2" y="475.1" font-size="13.4" fill="#161616">186</text>
<text x="1215.2" y="489.1" font-size="13.4" fill="#161616">151</text>
<text x="1215.2" y="502.1" font-size="13.4" fill="#161616">69</text>
<text x="1215.2" y="516.1" font-size="13.4" fill="#161616">155</text>
<text x="1215.2" y="529.1" font-size="13.4" fill="#161616">169</text>
<text x="1215.2" y="543.1" font-size="13.4" fill="#161616">41</text>
<text x="1215.2" y="556.1" font-size="13.4" fill="#161616">14</text>
</g>
<rect x="30" y="860.8" width="1398" height="1.3" fill="#3c4150"/>
<g clip-path="url(#cd)">
<rect x="32.1" y="934.5" width="1.2" height="9.1" fill="#2a2a2a"/>
<rect x="4.5" y="934.5" width="58.3" height="7.1" fill="#ef5350" stroke="#333" stroke-width="0.9"/>
<rect x="93.1" y="925.3" width="1.2" height="10.5" fill="#2a2a2a"/>
<rect x="65.5" y="927.3" width="58.3" height="7.2" fill="#26a69a" stroke="#333" stroke-width="0.9"/>
<rect x="153.1" y="931" width="1.2" height="16.4" fill="#2a2a2a"/>
<rect x="125.5" y="933.7" width="58.3" height="2.1" fill="#2a2a2a"/>
<rect x="213.1" y="932.8" width="1.2" height="10.8" fill="#2a2a2a"/>
<rect x="185.5" y="933.7" width="58.3" height="2.1" fill="#2a2a2a"/>
<rect x="274.1" y="929" width="1.2" height="10.8" fill="#2a2a2a"/>
<rect x="246.5" y="930.3" width="58.3" height="4.2" fill="#26a69a" stroke="#333" stroke-width="0.9"/>
<rect x="334.1" y="927.3" width="1.2" height="18.6" fill="#2a2a2a"/>
<rect x="306.5" y="929.3" width="58.3" height="5.2" fill="#26a69a" stroke="#333" stroke-width="0.9"/>
<rect x="394.1" y="922.3" width="1.2" height="16.3" fill="#2a2a2a"/>
<rect x="366.5" y="931.6" width="58.3" height="2.9" fill="#26a69a" stroke="#333" stroke-width="0.9"/>
<rect x="455.1" y="927.8" width="1.2" height="10" fill="#2a2a2a"/>
<rect x="427.5" y="931.6" width="58.3" height="2.9" fill="#26a69a" stroke="#333" stroke-width="0.9"/>
<rect x="515.1" y="934.5" width="1.2" height="14.1" fill="#2a2a2a"/>
<rect x="487.5" y="934.5" width="58.3" height="7.1" fill="#ef5350" stroke="#333" stroke-width="0.9"/>
<rect x="575.1" y="925.3" width="1.2" height="26.3" fill="#2a2a2a"/>
<rect x="547.5" y="934.5" width="58.3" height="7.1" fill="#ef5350" stroke="#333" stroke-width="0.9"/>
<rect x="636.1" y="904.4" width="1.2" height="31.4" fill="#2a2a2a"/>
<rect x="608.5" y="921.3" width="58.3" height="13.2" fill="#26a69a" stroke="#333" stroke-width="0.9"/>
<rect x="696.1" y="920.3" width="1.2" height="33.3" fill="#2a2a2a"/>
<rect x="668.5" y="934.5" width="58.3" height="13.9" fill="#ef5350" stroke="#333" stroke-width="0.9"/>
<rect x="756.1" y="925.3" width="1.2" height="9.2" fill="#2a2a2a"/>
<rect x="728.5" y="929.5" width="58.3" height="5" fill="#26a69a" stroke="#333" stroke-width="0.9"/>
<rect x="817.1" y="910.2" width="1.2" height="49.5" fill="#2a2a2a"/>
<rect x="789.5" y="934.5" width="58.3" height="10.1" fill="#ef5350" stroke="#333" stroke-width="0.9"/>
<rect x="877.1" y="924.3" width="1.2" height="41.1" fill="#2a2a2a"/>
<rect x="849.5" y="934.5" width="58.3" height="21.9" fill="#ef5350" stroke="#333" stroke-width="0.9"/>
<rect x="937.1" y="918.2" width="1.2" height="21.4" fill="#2a2a2a"/>
<rect x="909.5" y="932.8" width="58.3" height="2.1" fill="#2a2a2a"/>
<rect x="998.1" y="934.5" width="1.2" height="12.9" fill="#2a2a2a"/>
<rect x="970.5" y="934.5" width="58.3" height="5.1" fill="#ef5350" stroke="#333" stroke-width="0.9"/>
<rect x="1058.1" y="922.1" width="1.2" height="15.1" fill="#2a2a2a"/>
<rect x="1030.5" y="923.6" width="58.3" height="10.9" fill="#26a69a" stroke="#333" stroke-width="0.9"/>
<rect x="1118.1" y="914.1" width="1.2" height="40.5" fill="#2a2a2a"/>
<rect x="1090.5" y="934.5" width="58.3" height="16.9" fill="#ef5350" stroke="#333" stroke-width="0.9"/>
<rect x="1179.1" y="923" width="1.2" height="62.7" fill="#2a2a2a"/>
<rect x="1151.5" y="933.7" width="58.3" height="2.1" fill="#2a2a2a"/>
<rect x="1239.1" y="867.4" width="1.2" height="80.1" fill="#2a2a2a"/>
<rect x="1211.5" y="892.3" width="58.3" height="42.2" fill="#26a69a" stroke="#333" stroke-width="0.9"/>
</g>
<text x="35" y="877.5" font-size="12" fill="#333">Delta (Bars, 0.0, True)</text>
<rect x="30" y="990" width="1341.5" height="1.2" fill="#3a3a3a"/>
<g clip-path="url(#ct)" font-size="12" fill="#222" text-anchor="middle">
<rect x="32.1" y="990" width="1.2" height="6" fill="#333"/>
<text x="25.3" y="1007.6" textLength="28.6" lengthAdjust="spacingAndGlyphs">03:30</text>
<rect x="93.1" y="990" width="1.2" height="6" fill="#333"/>
<text x="86.3" y="1007.6" textLength="28.6" lengthAdjust="spacingAndGlyphs">04:00</text>
<rect x="153.1" y="990" width="1.2" height="6" fill="#333"/>
<text x="146.3" y="1007.6" textLength="28.6" lengthAdjust="spacingAndGlyphs">04:30</text>
<rect x="213.1" y="990" width="1.2" height="6" fill="#333"/>
<text x="206.3" y="1007.6" textLength="28.6" lengthAdjust="spacingAndGlyphs">05:00</text>
<rect x="274.1" y="990" width="1.2" height="6" fill="#333"/>
<text x="267.3" y="1007.6" textLength="28.6" lengthAdjust="spacingAndGlyphs">05:30</text>
<rect x="334.1" y="990" width="1.2" height="6" fill="#333"/>
<text x="327.3" y="1007.6" textLength="28.6" lengthAdjust="spacingAndGlyphs">06:00</text>
<rect x="394.1" y="990" width="1.2" height="6" fill="#333"/>
<text x="387.3" y="1007.6" textLength="28.6" lengthAdjust="spacingAndGlyphs">06:30</text>
<rect x="455.1" y="990" width="1.2" height="6" fill="#333"/>
<text x="448.3" y="1007.6" textLength="28.6" lengthAdjust="spacingAndGlyphs">07:00</text>
<rect x="515.1" y="990" width="1.2" height="6" fill="#333"/>
<text x="508.3" y="1007.6" textLength="28.6" lengthAdjust="spacingAndGlyphs">07:30</text>
<rect x="575.1" y="990" width="1.2" height="6" fill="#333"/>
<text x="568.3" y="1007.6" textLength="28.6" lengthAdjust="spacingAndGlyphs">08:00</text>
<rect x="636.1" y="990" width="1.2" height="6" fill="#333"/>
<text x="629.3" y="1007.6" textLength="28.6" lengthAdjust="spacingAndGlyphs">08:30</text>
<rect x="696.1" y="990" width="1.2" height="6" fill="#333"/>
<text x="689.3" y="1007.6" textLength="28.6" lengthAdjust="spacingAndGlyphs">09:00</text>
<rect x="756.1" y="990" width="1.2" height="6" fill="#333"/>
<text x="749.3" y="1007.6" textLength="28.6" lengthAdjust="spacingAndGlyphs">09:30</text>
<rect x="817.1" y="990" width="1.2" height="6" fill="#333"/>
<text x="810.3" y="1007.6" textLength="28.6" lengthAdjust="spacingAndGlyphs">10:00</text>
<rect x="877.1" y="990" width="1.2" height="6" fill="#333"/>
<text x="870.3" y="1007.6" textLength="28.6" lengthAdjust="spacingAndGlyphs">10:30</text>
<rect x="937.1" y="990" width="1.2" height="6" fill="#333"/>
<text x="930.3" y="1007.6" textLength="28.6" lengthAdjust="spacingAndGlyphs">11:00</text>
<rect x="998.1" y="990" width="1.2" height="6" fill="#333"/>
<text x="991.3" y="1007.6" textLength="28.6" lengthAdjust="spacingAndGlyphs">11:30</text>
<rect x="1058.1" y="990" width="1.2" height="6" fill="#333"/>
<text x="1051.3" y="1007.6" textLength="28.6" lengthAdjust="spacingAndGlyphs">12:00</text>
<rect x="1118.1" y="990" width="1.2" height="6" fill="#333"/>
<text x="1111.3" y="1007.6" textLength="28.6" lengthAdjust="spacingAndGlyphs">12:30</text>
<rect x="1179.1" y="990" width="1.2" height="6" fill="#333"/>
<text x="1172.3" y="1007.6" textLength="28.6" lengthAdjust="spacingAndGlyphs">13:00</text>
<rect x="1239.1" y="990" width="1.2" height="6" fill="#333"/>
<text x="1232.3" y="1007.6" textLength="28.6" lengthAdjust="spacingAndGlyphs">13:30</text>
</g>
<rect x="1371" y="94.5" width="1.2" height="896.5" fill="#3c4150"/>
<g font-size="12" fill="#111">
<text x="1378.5" y="123.5" textLength="35.6" lengthAdjust="spacingAndGlyphs">2659.5</text>
<text x="1378.5" y="191.05" textLength="35.6" lengthAdjust="spacingAndGlyphs">2658.0</text>
<text x="1378.5" y="258.6" textLength="35.6" lengthAdjust="spacingAndGlyphs">2656.5</text>
<text x="1378.5" y="326.15" textLength="35.6" lengthAdjust="spacingAndGlyphs">2655.0</text>
<text x="1378.5" y="393.7" textLength="35.6" lengthAdjust="spacingAndGlyphs">2653.5</text>
<text x="1378.5" y="461.25" textLength="35.6" lengthAdjust="spacingAndGlyphs">2652.0</text>
<text x="1378.5" y="528.8" textLength="35.6" lengthAdjust="spacingAndGlyphs">2650.5</text>
<text x="1378.5" y="596.35" textLength="35.6" lengthAdjust="spacingAndGlyphs">2649.0</text>
<text x="1378.5" y="663.9" textLength="35.6" lengthAdjust="spacingAndGlyphs">2647.5</text>
<text x="1378.5" y="731.45" textLength="35.6" lengthAdjust="spacingAndGlyphs">2646.0</text>
<text x="1378.5" y="799" textLength="35.6" lengthAdjust="spacingAndGlyphs">2644.5</text>
<text x="1378.5" y="866.55" textLength="35.6" lengthAdjust="spacingAndGlyphs">2643.0</text>
<text x="1378.5" y="150.3" fill="#fdfde0" textLength="35.6" lengthAdjust="spacingAndGlyphs">2658.9</text>
<text x="1378" y="875.5">500</text>
<rect x="1371" y="934" width="6" height="1" fill="#333"/>
<text x="1378.5" y="938.8">0</text>
<text x="1378" y="992">-379</text>
</g>
<path d="M1372.3 893 L1379 885.6 L1408.6 885.6 L1408.6 900.3 L1379 900.3 Z" fill="#26a69a"/>
<text x="1380" y="897.4" font-size="12.5" font-weight="bold" fill="#fff">311</text>
<rect x="1413.5" y="97.5" width="12" height="12" fill="#fff" stroke="#222" stroke-width="1"/>
<text x="1416.3" y="107.3" font-size="9" fill="#333">F</text>
<g stroke="#000" stroke-width="2" fill="none"><line x1="987.3" y1="168.7" x2="1049.5" y2="34.5"/></g>
<path d="M1052.4 27.8 L1052.2 38.4 L1045 35 Z" fill="#000"/>
</svg><!-- bottom scrollbar row -->
<div class="abs" style="left:28px;top:1012px;width:1402px;height:26px;background:#f4f4f6;"></div>
<div class="abs" style="left:28px;top:1014px;width:1172px;height:1px;background:#d6d8e6;"></div><svg class="ic" style="left:4px;top:1022px" width="8" height="8" viewBox="0 0 8 8"><path d="M1 0.700h5v6.300z" fill="#fff"/></svg>
<div class="abs" style="left:33.500px;top:1022.300px;width:0;height:0;border-top:4px solid transparent;border-bottom:4px solid transparent;border-right:4.800px solid #111;"></div>
<div class="abs" style="left:1176px;top:1019px;width:8px;height:15px;background:#c9c9dc;"></div>
<div class="abs" style="left:1190px;top:1022.300px;width:0;height:0;border-top:4px solid transparent;border-bottom:4px solid transparent;border-left:4.800px solid #111;"></div>
<svg class="ic" style="left:1229px;top:1017px" width="15" height="16" viewBox="0 0 15 16"><rect x="1" y="2.500" width="13" height="12" rx="2" fill="none" stroke="#666" stroke-width="1.100"/><path d="M1 6.500h13M4.500 0.500v3.500M10.500 0.500v3.500" stroke="#666" stroke-width="1.100"/></svg>
<!-- tabs -->
<div class="abs" style="left:2px;top:1041px;width:1430px;height:25px;background:#0078d0;"></div>
<div class="abs" style="left:3px;top:1042px;width:1428px;height:23px;background:#eeeef3;"></div>
<div class="abs" style="left:455px;top:1042px;width:85px;height:23px;background:#0078d0;"></div>
<div class="abs" style="left:540px;top:1042px;width:39px;height:23px;border-right:1px solid #d8d8e0;box-sizing:border-box;"></div>
<svg class="ic" style="left:552px;top:1046px" width="15" height="15" viewBox="0 0 15 15"><path d="M7.500 0.500v14M0.500 7.500h14" stroke="#222" stroke-width="1.300"/></svg>
<!-- status bar -->
<div class="abs" style="left:14px;top:1080.500px;width:6px;height:6px;border-radius:50%;background:#5cb86c;"></div>
<svg class="ic" style="left:89px;top:1080px" width="10" height="7" viewBox="0 0 10 7"><path d="M1 6l4-4 4 4" fill="none" stroke="#222" stroke-width="1.200"/></svg>
<div class="abs" style="left:111px;top:1080.500px;width:6px;height:6px;border-radius:50%;background:#5cb86c;"></div>
<svg class="ic" style="left:181px;top:1076px" width="16" height="16" viewBox="0 0 16 16"><g transform="translate(8,8)"><path d="M6.60 0.00 L6.55 0.34 L6.42 0.67 L6.21 0.98 L5.95 1.26 L5.65 1.51 L5.34 1.74 L5.05 1.94 L4.79 2.13 L4.58 2.33 L4.42 2.55 L4.31 2.80 L4.24 3.08 L4.20 3.40 L4.18 3.76 L4.14 4.14 L4.07 4.52 L3.96 4.89 L3.80 5.22 L3.57 5.50 L3.30 5.72 L2.98 5.85 L2.63 5.90 L2.25 5.87 L1.88 5.78 L1.51 5.65 L1.17 5.50 L0.85 5.34 L0.55 5.21 L0.27 5.13 L0.00 5.10 L-0.27 5.13 L-0.55 5.21 L-0.85 5.34 L-1.17 5.50 L-1.51 5.65 L-1.88 5.78 L-2.25 5.87 L-2.63 5.90 L-2.98 5.85 L-3.30 5.72 L-3.57 5.50 L-3.80 5.22 L-3.96 4.89 L-4.07 4.52 L-4.14 4.14 L-4.18 3.76 L-4.20 3.40 L-4.24 3.08 L-4.31 2.80 L-4.42 2.55 L-4.58 2.33 L-4.79 2.13 L-5.05 1.94 L-5.34 1.74 L-5.65 1.51 L-5.95 1.26 L-6.21 0.98 L-6.42 0.67 L-6.55 0.34 L-6.60 0.00 L-6.55 -0.34 L-6.42 -0.67 L-6.21 -0.98 L-5.95 -1.26 L-5.65 -1.51 L-5.34 -1.74 L-5.05 -1.94 L-4.79 -2.13 L-4.58 -2.33 L-4.42 -2.55 L-4.31 -2.80 L-4.24 -3.08 L-4.20 -3.40 L-4.18 -3.76 L-4.14 -4.14 L-4.07 -4.52 L-3.96 -4.89 L-3.80 -5.22 L-3.57 -5.50 L-3.30 -5.72 L-2.98 -5.85 L-2.63 -5.90 L-2.25 -5.87 L-1.88 -5.78 L-1.51 -5.65 L-1.17 -5.50 L-0.85 -5.34 L-0.55 -5.21 L-0.27 -5.13 L-0.00 -5.10 L0.27 -5.13 L0.55 -5.21 L0.85 -5.34 L1.17 -5.50 L1.51 -5.65 L1.88 -5.78 L2.25 -5.87 L2.63 -5.90 L2.98 -5.85 L3.30 -5.72 L3.57 -5.50 L3.80 -5.22 L3.96 -4.89 L4.07 -4.52 L4.14 -4.14 L4.18 -3.76 L4.20 -3.40 L4.24 -3.08 L4.31 -2.80 L4.42 -2.55 L4.58 -2.33 L4.79 -2.13 L5.05 -1.94 L5.34 -1.74 L5.65 -1.51 L5.95 -1.26 L6.21 -0.98 L6.42 -0.67 L6.55 -0.34Z" fill="none" stroke="#333" stroke-width="1.100" stroke-linejoin="round"/><circle cx="0" cy="0" r="2.6" fill="none" stroke="#333" stroke-width="1.100"/></g></svg>
<svg class="ic" style="left:1411px;top:1077px" width="15" height="15" viewBox="0 0 15 15" fill="none" stroke="#f3d060" stroke-width="1.300"><rect x="1" y="1" width="5" height="6" rx="1"/><rect x="8.500" y="1" width="5" height="4" rx="1"/><rect x="1" y="9.500" width="5" height="4" rx="1"/><rect x="8.500" y="7.500" width="5" height="6" rx="1"/></svg>
<svg width="1434" height="1100" viewBox="0 0 1434 1100" style="position:absolute;left:0;top:0;pointer-events:none;will-change:transform" font-family="Liberation Sans, sans-serif">
<text x="631" y="21.12" font-size="12" fill="#222" textLength="171" lengthAdjust="spacingAndGlyphs">ATAS v7.0.3.339-latest - [default]</text>
<text x="1038" y="17.89" font-size="12.2" fill="#fff" textLength="130" lengthAdjust="spacingAndGlyphs">Complete Guide to ATAS</text>
<text x="14.3" y="51.99" font-size="12.2" fill="#fff" textLength="28.3" lengthAdjust="spacingAndGlyphs">Learn</text>
<text x="71.3" y="51.99" font-size="12.2" fill="#1a1a1a" textLength="31.6" lengthAdjust="spacingAndGlyphs">Home</text>
<text x="131.2" y="51.99" font-size="12.2" fill="#1a1a1a" textLength="41.8" lengthAdjust="spacingAndGlyphs">Settings</text>
<text x="202.5" y="51.99" font-size="12.2" fill="#1a1a1a" textLength="102.9" lengthAdjust="spacingAndGlyphs">License information</text>
<text x="1335.6" y="56.99" font-size="12.2" fill="#1a1a1a" textLength="61.4" lengthAdjust="spacingAndGlyphs">Show menu</text>
<text x="68.2" y="84.39" font-size="12.2" fill="#1a1a1a" textLength="88.3" lengthAdjust="spacingAndGlyphs">#GCG5@COMEX</text>
<text x="182.5" y="84.39" font-size="12.2" fill="#1a1a1a" textLength="52.7" lengthAdjust="spacingAndGlyphs">M30 chart</text>
<text x="257" y="84.39" font-size="12.2" fill="#1a1a1a" textLength="30" lengthAdjust="spacingAndGlyphs">1 Lots</text>
<text x="425.5" y="84.39" font-size="12.2" fill="#1a1a1a" textLength="50.9" lengthAdjust="spacingAndGlyphs">Indicators</text>
<text x="886" y="84.69" font-size="12.2" fill="#222" textLength="29" lengthAdjust="spacingAndGlyphs">Chart</text>
<text x="1278.5" y="1029.99" font-size="12.2" fill="#1a1a1a" textLength="64.1" lengthAdjust="spacingAndGlyphs">DOM Trader</text>
<text x="1356.8" y="1029.99" font-size="12.2" fill="#1a1a1a" textLength="65.1" lengthAdjust="spacingAndGlyphs">Chart Trader</text>
<text x="9.2" y="1057.99" font-size="12.2" fill="#1a1a1a" textLength="48.1" lengthAdjust="spacingAndGlyphs">Accounts</text>
<text x="69.9" y="1057.99" font-size="12.2" fill="#1a1a1a" textLength="35.5" lengthAdjust="spacingAndGlyphs">Orders</text>
<text x="118.4" y="1057.99" font-size="12.2" fill="#1a1a1a" textLength="33.1" lengthAdjust="spacingAndGlyphs">Trades</text>
<text x="164" y="1057.99" font-size="12.2" fill="#1a1a1a" textLength="45.2" lengthAdjust="spacingAndGlyphs">Statistics</text>
<text x="222.2" y="1057.99" font-size="12.2" fill="#1a1a1a" textLength="226.3" lengthAdjust="spacingAndGlyphs">VIRTUALUSDT 15 Seconds chart (Historical)</text>
<text x="460.7" y="1057.99" font-size="12.2" fill="#fff" textLength="72.8" lengthAdjust="spacingAndGlyphs">GC M30 chart</text>
<text x="26.2" y="1088.69" font-size="12.2" fill="#1a1a1a" textLength="35.1" lengthAdjust="spacingAndGlyphs">Server:</text>
<text x="65.5" y="1088.69" font-size="12.2" fill="#111" textLength="11.9" lengthAdjust="spacingAndGlyphs" font-weight="bold">E2</text>
<text x="121.8" y="1088.69" font-size="12.2" fill="#111" textLength="43.5" lengthAdjust="spacingAndGlyphs" font-weight="bold">Binance</text>
<text x="1311.8" y="1088.99" font-size="12.2" fill="#777" textLength="85.8" lengthAdjust="spacingAndGlyphs">v7.0.3.339-latest</text>
<text transform="translate(10.6,144.5) rotate(90)" x="0" y="0" font-size="12.2" fill="#1a1a1a" textLength="40.4" lengthAdjust="spacingAndGlyphs">Volume</text>
<text transform="translate(10.6,205.9) rotate(90)" x="0" y="0" font-size="12.2" fill="#1a1a1a" textLength="33.5" lengthAdjust="spacingAndGlyphs">Trades</text>
<text transform="translate(10.6,261.8) rotate(90)" x="0" y="0" font-size="12.2" fill="#1a1a1a" textLength="46.4" lengthAdjust="spacingAndGlyphs">Bid x Ask</text>
<text transform="translate(10.6,331.3) rotate(90)" x="0" y="0" font-size="12.2" fill="#1a1a1a" textLength="25.9" lengthAdjust="spacingAndGlyphs">Delta</text>
</svg>
<!-- corners -->
<svg class="ic" style="left:0;top:0;pointer-events:none" width="1434" height="1100" viewBox="0 0 1434 1100"><path d="M0 1092.500A7.500 7.500 0 0 0 7.500 1100H0z" fill="#3a3a3a"/><path d="M1426.500 0A7.500 7.500 0 0 1 1434 7.500V0z" fill="#4a5258"/><rect x="1431.6" y="1091.0" width="1.1" height="1.1" fill="#444"/><rect x="1429.4" y="1093.2" width="1.1" height="1.1" fill="#444"/><rect x="1431.6" y="1093.2" width="1.1" height="1.1" fill="#444"/><rect x="1427.2" y="1095.4" width="1.1" height="1.1" fill="#444"/><rect x="1429.4" y="1095.4" width="1.1" height="1.1" fill="#444"/><rect x="1431.6" y="1095.4" width="1.1" height="1.1" fill="#444"/><rect x="1425.0" y="1097.6" width="1.1" height="1.1" fill="#444"/><rect x="1427.2" y="1097.6" width="1.1" height="1.1" fill="#444"/><rect x="1429.4" y="1097.6" width="1.1" height="1.1" fill="#444"/><rect x="1431.6" y="1097.6" width="1.1" height="1.1" fill="#444"/><path d="M0 5.500A5.500 5.500 0 0 1 5.500 0H0z" fill="#d4a039"/></svg>
</body></html>
